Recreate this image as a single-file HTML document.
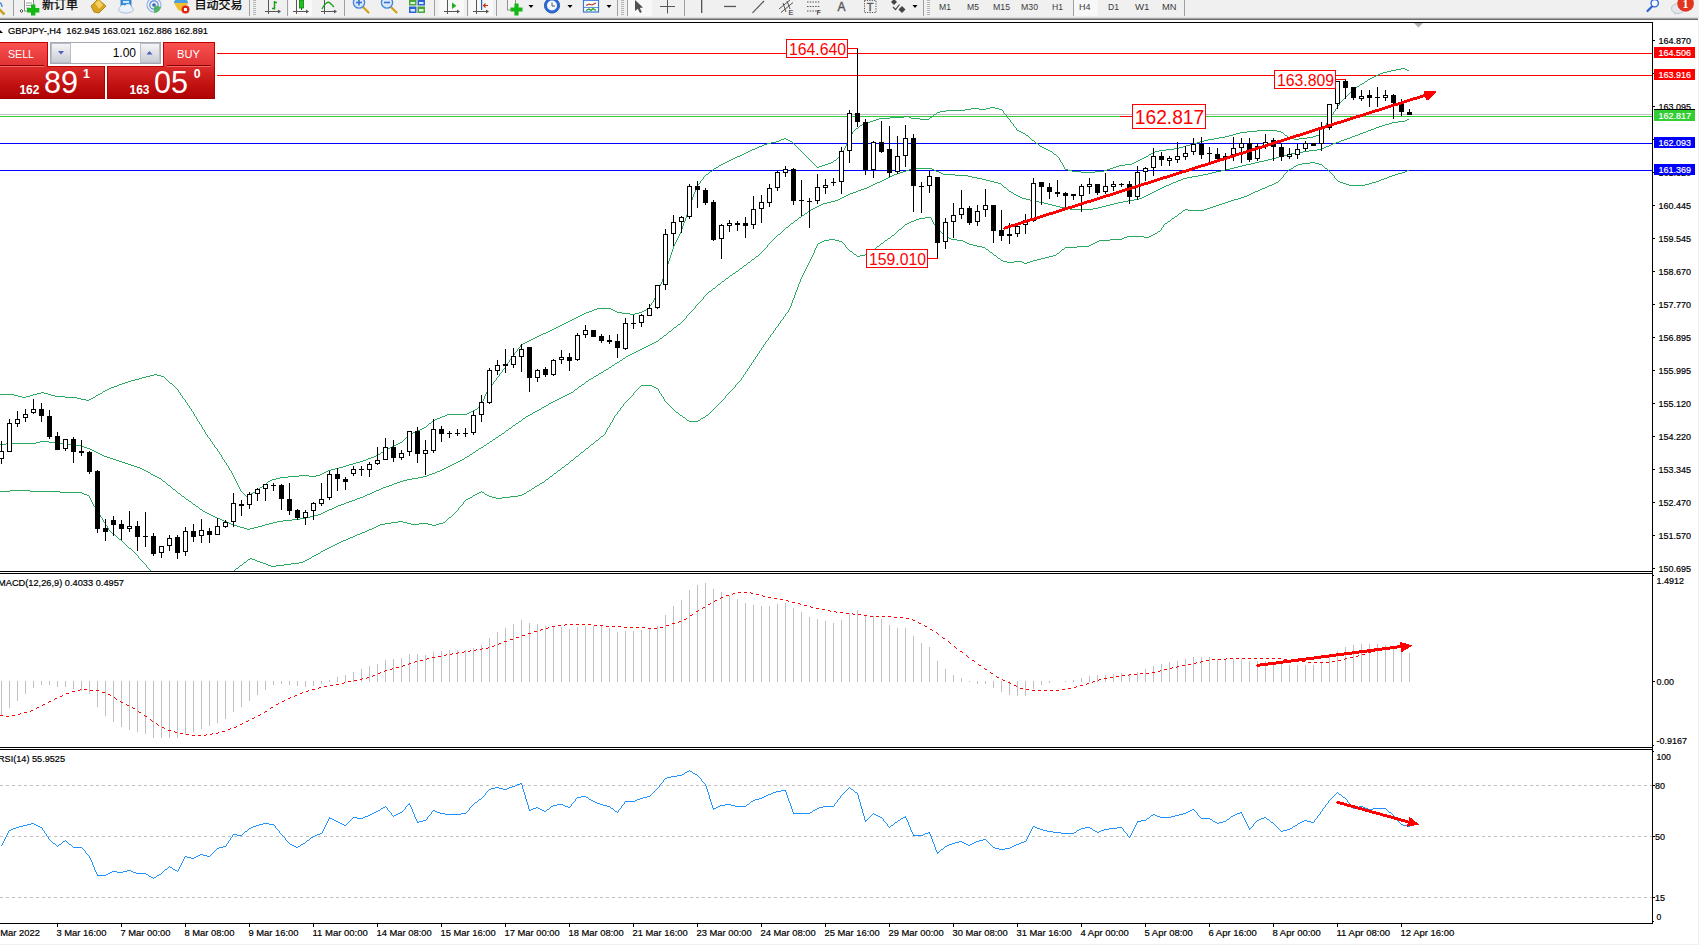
<!DOCTYPE html>
<html lang="zh"><head><meta charset="utf-8"><title>GBPJPY-,H4</title>
<style>html,body{margin:0;padding:0;background:#fff;overflow:hidden}body{width:1699px;height:945px}svg{display:block;position:absolute;left:0;top:0}</style>
</head><body>
<svg width="1699" height="945" viewBox="0 0 1699 945" font-family='"Liberation Sans", "Noto Sans CJK SC", sans-serif'>
<defs>
<linearGradient id="gTop" x1="0" y1="0" x2="0" y2="1"><stop offset="0" stop-color="#fb5252"/><stop offset="1" stop-color="#df3030"/></linearGradient>
<linearGradient id="gBot" x1="0" y1="0" x2="0" y2="1"><stop offset="0" stop-color="#dc2c2c"/><stop offset="0.55" stop-color="#c21212"/><stop offset="1" stop-color="#ae0202"/></linearGradient>
<linearGradient id="gBtn" x1="0" y1="0" x2="0" y2="1"><stop offset="0" stop-color="#f4f5f7"/><stop offset="0.5" stop-color="#dfe1e6"/><stop offset="1" stop-color="#c9ccd3"/></linearGradient>
<clipPath id="cMain"><rect x="0" y="23" width="1653" height="548"/></clipPath>
<clipPath id="cMacd"><rect x="0" y="574" width="1653" height="173"/></clipPath>
<clipPath id="cRsi"><rect x="0" y="750" width="1653" height="173"/></clipPath>
</defs>
<rect width="1699" height="945" fill="#fff"/>
<g clip-path="url(#cMain)" shape-rendering="crispEdges">
<rect x="217" y="53" width="1435" height="1" fill="#ff0000"/>
<rect x="217" y="75" width="1435" height="1" fill="#ff0000"/>
<rect x="0" y="114" width="1652" height="1" fill="#c0c0c0"/>
<rect x="0" y="116" width="1652" height="1" fill="#32cd32"/>
<rect x="0" y="143" width="1652" height="1" fill="#0000ff"/>
<rect x="0" y="170" width="1652" height="1" fill="#0000ff"/>
<path d="M1401 68h4v1h-4zM1396 69h5v1h-5zM1405 69h2v1h-2zM1391 70h5v1h-5zM1407 70h2v1h-2zM1387 71h4v1h-4zM1383 72h4v1h-4zM1380 73h3v1h-3zM1378 74h2v1h-2zM1376 75h2v1h-2zM1374 76h2v1h-2zM1372 77h2v1h-2zM1370 78h2v1h-2zM1368 79h2v1h-2zM1367 80h1v1h-1zM1365 81h2v1h-2zM1364 82h1v1h-1zM1362 83h2v1h-2zM1360 84h2v1h-2zM1359 85h1v1h-1zM1357 86h2v1h-2zM1356 87h1v1h-1zM1355 88h1v1h-1zM1354 89h1v1h-1zM1352 90h2v1h-2zM1351 91h1v1h-1zM1350 92h1v1h-1zM1349 93h1v1h-1zM1348 94h1v1h-1zM1347 95h1v1h-1zM1346 96h1v1h-1zM1345 97h1v1h-1zM1344 98h1v1h-1zM1343 99h1v1h-1zM1342 100h1v1h-1zM1341 101h1v1h-1zM1340 102h1v1h-1zM1339 103h1v1h-1zM1339 104h1v1h-1zM1338 105h1v1h-1zM1337 106h1v1h-1zM990 107h5v1h-5zM1337 107h1v1h-1zM971 108h8v1h-8zM986 108h4v1h-4zM995 108h4v1h-4zM1336 108h1v1h-1zM965 109h6v1h-6zM979 109h7v1h-7zM999 109h3v1h-3zM1335 109h1v1h-1zM946 110h19v1h-19zM1002 110h1v1h-1zM1335 110h1v1h-1zM940 111h6v1h-6zM1003 111h1v1h-1zM1334 111h1v1h-1zM937 112h3v1h-3zM1003 112h1v1h-1zM1333 112h1v1h-1zM936 113h1v1h-1zM1004 113h1v1h-1zM1333 113h1v1h-1zM934 114h2v1h-2zM1005 114h1v1h-1zM1332 114h1v1h-1zM933 115h1v1h-1zM1006 115h1v1h-1zM1331 115h1v1h-1zM904 116h5v1h-5zM932 116h1v1h-1zM1006 116h1v1h-1zM1331 116h1v1h-1zM890 117h14v1h-14zM909 117h2v1h-2zM930 117h2v1h-2zM1007 117h1v1h-1zM1330 117h1v1h-1zM879 118h11v1h-11zM911 118h9v1h-9zM929 118h1v1h-1zM1008 118h1v1h-1zM1330 118h1v1h-1zM876 119h3v1h-3zM920 119h9v1h-9zM1009 119h1v1h-1zM1329 119h1v1h-1zM873 120h3v1h-3zM1010 120h1v1h-1zM1328 120h1v1h-1zM870 121h3v1h-3zM1010 121h1v1h-1zM1328 121h1v1h-1zM867 122h3v1h-3zM1011 122h1v1h-1zM1327 122h1v1h-1zM864 123h3v1h-3zM1012 123h1v1h-1zM1326 123h1v1h-1zM862 124h2v1h-2zM1013 124h1v1h-1zM1326 124h1v1h-1zM860 125h2v1h-2zM1013 125h1v1h-1zM1325 125h1v1h-1zM859 126h1v1h-1zM1014 126h1v1h-1zM1324 126h1v1h-1zM858 127h1v1h-1zM1015 127h1v1h-1zM1324 127h1v1h-1zM856 128h2v1h-2zM1016 128h1v1h-1zM1323 128h1v1h-1zM855 129h1v1h-1zM1016 129h1v1h-1zM1323 129h1v1h-1zM854 130h1v1h-1zM1017 130h2v1h-2zM1257 130h20v1h-20zM1322 130h1v1h-1zM853 131h1v1h-1zM1019 131h2v1h-2zM1247 131h10v1h-10zM1277 131h4v1h-4zM1322 131h1v1h-1zM852 132h1v1h-1zM1021 132h2v1h-2zM1240 132h7v1h-7zM1281 132h2v1h-2zM1321 132h1v1h-1zM852 133h1v1h-1zM1023 133h2v1h-2zM1236 133h4v1h-4zM1283 133h1v1h-1zM1321 133h1v1h-1zM851 134h1v1h-1zM1025 134h1v1h-1zM1233 134h3v1h-3zM1284 134h1v1h-1zM1319 134h2v1h-2zM851 135h1v1h-1zM1026 135h2v1h-2zM1229 135h4v1h-4zM1285 135h2v1h-2zM1316 135h3v1h-3zM850 136h1v1h-1zM1028 136h1v1h-1zM1225 136h4v1h-4zM1287 136h1v1h-1zM1313 136h3v1h-3zM850 137h1v1h-1zM1029 137h1v1h-1zM1219 137h6v1h-6zM1288 137h2v1h-2zM1307 137h6v1h-6zM784 138h2v1h-2zM849 138h1v1h-1zM1030 138h1v1h-1zM1214 138h5v1h-5zM1290 138h4v1h-4zM1299 138h8v1h-8zM781 139h3v1h-3zM786 139h2v1h-2zM849 139h1v1h-1zM1031 139h1v1h-1zM1208 139h6v1h-6zM1294 139h5v1h-5zM779 140h2v1h-2zM788 140h2v1h-2zM848 140h1v1h-1zM1032 140h2v1h-2zM1204 140h4v1h-4zM776 141h3v1h-3zM790 141h2v1h-2zM848 141h1v1h-1zM1034 141h1v1h-1zM1200 141h4v1h-4zM771 142h5v1h-5zM792 142h1v1h-1zM847 142h1v1h-1zM1035 142h1v1h-1zM1197 142h3v1h-3zM767 143h4v1h-4zM793 143h1v1h-1zM847 143h1v1h-1zM1036 143h2v1h-2zM1193 143h4v1h-4zM764 144h3v1h-3zM794 144h1v1h-1zM846 144h1v1h-1zM1038 144h1v1h-1zM1190 144h3v1h-3zM762 145h2v1h-2zM795 145h1v1h-1zM846 145h1v1h-1zM1039 145h1v1h-1zM1186 145h4v1h-4zM759 146h3v1h-3zM796 146h1v1h-1zM845 146h1v1h-1zM1040 146h2v1h-2zM1183 146h3v1h-3zM757 147h2v1h-2zM797 147h1v1h-1zM845 147h1v1h-1zM1042 147h2v1h-2zM1179 147h4v1h-4zM755 148h2v1h-2zM798 148h1v1h-1zM844 148h1v1h-1zM1044 148h2v1h-2zM1174 148h5v1h-5zM752 149h3v1h-3zM799 149h1v1h-1zM844 149h1v1h-1zM1046 149h2v1h-2zM1166 149h8v1h-8zM750 150h2v1h-2zM800 150h1v1h-1zM843 150h1v1h-1zM1048 150h2v1h-2zM1159 150h7v1h-7zM748 151h2v1h-2zM801 151h1v1h-1zM843 151h1v1h-1zM1050 151h2v1h-2zM1155 151h4v1h-4zM746 152h2v1h-2zM802 152h1v1h-1zM842 152h1v1h-1zM1052 152h1v1h-1zM1153 152h2v1h-2zM744 153h2v1h-2zM803 153h1v1h-1zM842 153h1v1h-1zM1053 153h1v1h-1zM1151 153h2v1h-2zM742 154h2v1h-2zM804 154h1v1h-1zM841 154h1v1h-1zM1054 154h2v1h-2zM1149 154h2v1h-2zM740 155h2v1h-2zM805 155h1v1h-1zM841 155h1v1h-1zM1056 155h1v1h-1zM1148 155h1v1h-1zM737 156h3v1h-3zM806 156h1v1h-1zM840 156h1v1h-1zM1057 156h1v1h-1zM1146 156h2v1h-2zM735 157h2v1h-2zM807 157h1v1h-1zM838 157h2v1h-2zM1058 157h1v1h-1zM1144 157h2v1h-2zM733 158h2v1h-2zM808 158h1v1h-1zM837 158h1v1h-1zM1059 158h1v1h-1zM1142 158h2v1h-2zM731 159h2v1h-2zM809 159h1v1h-1zM836 159h1v1h-1zM1059 159h1v1h-1zM1140 159h2v1h-2zM729 160h2v1h-2zM810 160h1v1h-1zM834 160h2v1h-2zM1060 160h1v1h-1zM1138 160h2v1h-2zM727 161h2v1h-2zM811 161h1v1h-1zM833 161h1v1h-1zM1060 161h1v1h-1zM1136 161h2v1h-2zM725 162h2v1h-2zM812 162h1v1h-1zM831 162h2v1h-2zM1061 162h1v1h-1zM1134 162h2v1h-2zM723 163h2v1h-2zM813 163h1v1h-1zM828 163h3v1h-3zM1062 163h1v1h-1zM1132 163h2v1h-2zM721 164h2v1h-2zM814 164h1v1h-1zM825 164h3v1h-3zM1062 164h1v1h-1zM1125 164h7v1h-7zM719 165h2v1h-2zM815 165h1v1h-1zM822 165h3v1h-3zM1063 165h1v1h-1zM1119 165h6v1h-6zM718 166h1v1h-1zM816 166h1v1h-1zM819 166h3v1h-3zM1063 166h1v1h-1zM1116 166h3v1h-3zM716 167h2v1h-2zM817 167h2v1h-2zM1064 167h1v1h-1zM1113 167h3v1h-3zM714 168h2v1h-2zM1064 168h1v1h-1zM1110 168h3v1h-3zM713 169h1v1h-1zM1065 169h3v1h-3zM1107 169h3v1h-3zM712 170h1v1h-1zM1068 170h4v1h-4zM1104 170h3v1h-3zM710 171h2v1h-2zM1072 171h9v1h-9zM1095 171h9v1h-9zM709 172h1v1h-1zM1081 172h14v1h-14zM708 173h1v1h-1zM706 174h2v1h-2zM705 175h1v1h-1zM704 176h1v1h-1zM703 177h1v1h-1zM703 178h1v1h-1zM702 179h1v1h-1zM701 180h1v1h-1zM700 181h1v1h-1zM700 182h1v1h-1zM699 183h1v1h-1zM698 184h1v1h-1zM697 185h1v1h-1zM697 186h1v1h-1zM696 187h1v1h-1zM696 188h1v1h-1zM695 189h1v1h-1zM695 190h1v1h-1zM695 191h1v1h-1zM694 192h1v1h-1zM694 193h1v1h-1zM693 194h1v1h-1zM693 195h1v1h-1zM693 196h1v1h-1zM692 197h1v1h-1zM692 198h1v1h-1zM692 199h1v1h-1zM691 200h1v1h-1zM691 201h1v1h-1zM691 202h1v1h-1zM690 203h1v1h-1zM690 204h1v1h-1zM690 205h1v1h-1zM689 206h1v1h-1zM689 207h1v1h-1zM689 208h1v1h-1zM688 209h1v1h-1zM688 210h1v1h-1zM688 211h1v1h-1zM687 212h1v1h-1zM687 213h1v1h-1zM687 214h1v1h-1zM686 215h1v1h-1zM686 216h1v1h-1zM686 217h1v1h-1zM685 218h1v1h-1zM685 219h1v1h-1zM685 220h1v1h-1zM684 221h1v1h-1zM684 222h1v1h-1zM683 223h1v1h-1zM683 224h1v1h-1zM683 225h1v1h-1zM682 226h1v1h-1zM682 227h1v1h-1zM682 228h1v1h-1zM681 229h1v1h-1zM681 230h1v1h-1zM681 231h1v1h-1zM680 232h1v1h-1zM680 233h1v1h-1zM679 234h1v1h-1zM679 235h1v1h-1zM678 236h1v1h-1zM678 237h1v1h-1zM677 238h1v1h-1zM677 239h1v1h-1zM676 240h1v1h-1zM676 241h1v1h-1zM675 242h1v1h-1zM675 243h1v1h-1zM674 244h1v1h-1zM674 245h1v1h-1zM673 246h1v1h-1zM673 247h1v1h-1zM673 248h1v1h-1zM672 249h1v1h-1zM672 250h1v1h-1zM672 251h1v1h-1zM671 252h1v1h-1zM671 253h1v1h-1zM671 254h1v1h-1zM670 255h1v1h-1zM670 256h1v1h-1zM670 257h1v1h-1zM669 258h1v1h-1zM669 259h1v1h-1zM669 260h1v1h-1zM668 261h1v1h-1zM668 262h1v1h-1zM668 263h1v1h-1zM667 264h1v1h-1zM667 265h1v1h-1zM667 266h1v1h-1zM666 267h1v1h-1zM666 268h1v1h-1zM666 269h1v1h-1zM665 270h1v1h-1zM665 271h1v1h-1zM665 272h1v1h-1zM664 273h1v1h-1zM664 274h1v1h-1zM664 275h1v1h-1zM663 276h1v1h-1zM663 277h1v1h-1zM663 278h1v1h-1zM662 279h1v1h-1zM662 280h1v1h-1zM662 281h1v1h-1zM661 282h1v1h-1zM661 283h1v1h-1zM660 284h1v1h-1zM660 285h1v1h-1zM659 286h1v1h-1zM659 287h1v1h-1zM659 288h1v1h-1zM658 289h1v1h-1zM658 290h1v1h-1zM657 291h1v1h-1zM657 292h1v1h-1zM657 293h1v1h-1zM656 294h1v1h-1zM656 295h1v1h-1zM655 296h1v1h-1zM655 297h1v1h-1zM654 298h1v1h-1zM654 299h1v1h-1zM653 300h1v1h-1zM653 301h1v1h-1zM652 302h1v1h-1zM651 303h1v1h-1zM651 304h1v1h-1zM650 305h1v1h-1zM649 306h1v1h-1zM649 307h1v1h-1zM597 308h14v1h-14zM648 308h1v1h-1zM594 309h3v1h-3zM611 309h2v1h-2zM646 309h2v1h-2zM592 310h2v1h-2zM613 310h2v1h-2zM644 310h2v1h-2zM589 311h3v1h-3zM615 311h2v1h-2zM642 311h2v1h-2zM586 312h3v1h-3zM617 312h5v1h-5zM639 312h3v1h-3zM584 313h2v1h-2zM622 313h8v1h-8zM635 313h4v1h-4zM582 314h2v1h-2zM630 314h5v1h-5zM580 315h2v1h-2zM578 316h2v1h-2zM576 317h2v1h-2zM574 318h2v1h-2zM572 319h2v1h-2zM570 320h2v1h-2zM568 321h2v1h-2zM566 322h2v1h-2zM564 323h2v1h-2zM562 324h2v1h-2zM560 325h2v1h-2zM558 326h2v1h-2zM556 327h2v1h-2zM554 328h2v1h-2zM552 329h2v1h-2zM550 330h2v1h-2zM548 331h2v1h-2zM546 332h2v1h-2zM543 333h3v1h-3zM541 334h2v1h-2zM539 335h2v1h-2zM537 336h2v1h-2zM535 337h2v1h-2zM533 338h2v1h-2zM531 339h2v1h-2zM529 340h2v1h-2zM527 341h2v1h-2zM525 342h2v1h-2zM523 343h2v1h-2zM521 344h2v1h-2zM520 345h1v1h-1zM520 346h1v1h-1zM519 347h1v1h-1zM518 348h1v1h-1zM517 349h1v1h-1zM517 350h1v1h-1zM516 351h1v1h-1zM515 352h1v1h-1zM514 353h1v1h-1zM514 354h1v1h-1zM513 355h1v1h-1zM512 356h1v1h-1zM511 357h1v1h-1zM511 358h1v1h-1zM510 359h1v1h-1zM509 360h1v1h-1zM509 361h1v1h-1zM508 362h1v1h-1zM507 363h1v1h-1zM507 364h1v1h-1zM506 365h1v1h-1zM505 366h1v1h-1zM505 367h1v1h-1zM504 368h1v1h-1zM503 369h1v1h-1zM502 370h1v1h-1zM502 371h1v1h-1zM501 372h1v1h-1zM500 373h1v1h-1zM154 374h3v1h-3zM499 374h1v1h-1zM150 375h4v1h-4zM157 375h4v1h-4zM499 375h1v1h-1zM146 376h4v1h-4zM161 376h3v1h-3zM498 376h1v1h-1zM142 377h4v1h-4zM164 377h1v1h-1zM497 377h1v1h-1zM139 378h3v1h-3zM165 378h1v1h-1zM496 378h1v1h-1zM135 379h4v1h-4zM166 379h1v1h-1zM496 379h1v1h-1zM131 380h4v1h-4zM167 380h1v1h-1zM495 380h1v1h-1zM128 381h3v1h-3zM168 381h1v1h-1zM494 381h1v1h-1zM125 382h3v1h-3zM169 382h1v1h-1zM493 382h1v1h-1zM122 383h3v1h-3zM170 383h2v1h-2zM493 383h1v1h-1zM119 384h3v1h-3zM172 384h1v1h-1zM492 384h1v1h-1zM117 385h2v1h-2zM173 385h1v1h-1zM491 385h1v1h-1zM114 386h3v1h-3zM174 386h1v1h-1zM490 386h1v1h-1zM111 387h3v1h-3zM175 387h1v1h-1zM490 387h1v1h-1zM109 388h2v1h-2zM176 388h1v1h-1zM489 388h1v1h-1zM107 389h2v1h-2zM177 389h1v1h-1zM488 389h1v1h-1zM105 390h2v1h-2zM178 390h1v1h-1zM487 390h1v1h-1zM103 391h2v1h-2zM178 391h1v1h-1zM487 391h1v1h-1zM41 392h3v1h-3zM102 392h1v1h-1zM179 392h1v1h-1zM486 392h1v1h-1zM37 393h4v1h-4zM44 393h4v1h-4zM100 393h2v1h-2zM180 393h1v1h-1zM486 393h1v1h-1zM0 394h14v1h-14zM33 394h4v1h-4zM48 394h3v1h-3zM98 394h2v1h-2zM180 394h1v1h-1zM485 394h1v1h-1zM14 395h4v1h-4zM30 395h3v1h-3zM51 395h4v1h-4zM96 395h2v1h-2zM181 395h1v1h-1zM485 395h1v1h-1zM18 396h4v1h-4zM26 396h4v1h-4zM55 396h10v1h-10zM95 396h1v1h-1zM182 396h1v1h-1zM484 396h1v1h-1zM22 397h4v1h-4zM65 397h12v1h-12zM93 397h2v1h-2zM182 397h1v1h-1zM484 397h1v1h-1zM77 398h4v1h-4zM91 398h2v1h-2zM183 398h1v1h-1zM484 398h1v1h-1zM81 399h5v1h-5zM89 399h2v1h-2zM184 399h1v1h-1zM483 399h1v1h-1zM86 400h3v1h-3zM185 400h1v1h-1zM483 400h1v1h-1zM185 401h1v1h-1zM482 401h1v1h-1zM186 402h1v1h-1zM482 402h1v1h-1zM187 403h1v1h-1zM481 403h1v1h-1zM187 404h1v1h-1zM480 404h1v1h-1zM188 405h1v1h-1zM479 405h1v1h-1zM189 406h1v1h-1zM479 406h1v1h-1zM189 407h1v1h-1zM478 407h1v1h-1zM190 408h1v1h-1zM477 408h1v1h-1zM191 409h1v1h-1zM475 409h2v1h-2zM191 410h1v1h-1zM473 410h2v1h-2zM192 411h1v1h-1zM471 411h2v1h-2zM193 412h1v1h-1zM469 412h2v1h-2zM193 413h1v1h-1zM467 413h2v1h-2zM194 414h1v1h-1zM447 414h20v1h-20zM194 415h1v1h-1zM445 415h2v1h-2zM195 416h1v1h-1zM442 416h3v1h-3zM196 417h1v1h-1zM440 417h2v1h-2zM196 418h1v1h-1zM437 418h3v1h-3zM197 419h1v1h-1zM435 419h2v1h-2zM197 420h1v1h-1zM433 420h2v1h-2zM198 421h1v1h-1zM432 421h1v1h-1zM199 422h1v1h-1zM431 422h1v1h-1zM199 423h1v1h-1zM429 423h2v1h-2zM200 424h1v1h-1zM428 424h1v1h-1zM201 425h1v1h-1zM427 425h1v1h-1zM201 426h1v1h-1zM426 426h1v1h-1zM202 427h1v1h-1zM424 427h2v1h-2zM202 428h1v1h-1zM422 428h2v1h-2zM203 429h1v1h-1zM420 429h2v1h-2zM204 430h1v1h-1zM417 430h3v1h-3zM204 431h1v1h-1zM415 431h2v1h-2zM205 432h1v1h-1zM413 432h2v1h-2zM205 433h1v1h-1zM411 433h2v1h-2zM206 434h1v1h-1zM409 434h2v1h-2zM207 435h1v1h-1zM408 435h1v1h-1zM207 436h1v1h-1zM407 436h1v1h-1zM208 437h1v1h-1zM406 437h1v1h-1zM209 438h1v1h-1zM405 438h1v1h-1zM210 439h1v1h-1zM404 439h1v1h-1zM210 440h1v1h-1zM403 440h1v1h-1zM211 441h1v1h-1zM402 441h1v1h-1zM212 442h1v1h-1zM400 442h2v1h-2zM212 443h1v1h-1zM398 443h2v1h-2zM213 444h1v1h-1zM396 444h2v1h-2zM214 445h1v1h-1zM394 445h2v1h-2zM214 446h1v1h-1zM392 446h2v1h-2zM215 447h1v1h-1zM390 447h2v1h-2zM216 448h1v1h-1zM388 448h2v1h-2zM217 449h1v1h-1zM386 449h2v1h-2zM217 450h1v1h-1zM385 450h1v1h-1zM218 451h1v1h-1zM383 451h2v1h-2zM219 452h1v1h-1zM381 452h2v1h-2zM219 453h1v1h-1zM380 453h1v1h-1zM220 454h1v1h-1zM378 454h2v1h-2zM221 455h1v1h-1zM376 455h2v1h-2zM221 456h1v1h-1zM374 456h2v1h-2zM222 457h1v1h-1zM371 457h3v1h-3zM222 458h1v1h-1zM368 458h3v1h-3zM223 459h1v1h-1zM366 459h2v1h-2zM224 460h1v1h-1zM363 460h3v1h-3zM224 461h1v1h-1zM360 461h3v1h-3zM225 462h1v1h-1zM356 462h4v1h-4zM226 463h1v1h-1zM353 463h3v1h-3zM226 464h1v1h-1zM349 464h4v1h-4zM227 465h1v1h-1zM346 465h3v1h-3zM228 466h1v1h-1zM343 466h3v1h-3zM228 467h1v1h-1zM339 467h4v1h-4zM229 468h1v1h-1zM335 468h4v1h-4zM229 469h1v1h-1zM331 469h4v1h-4zM230 470h1v1h-1zM328 470h3v1h-3zM231 471h1v1h-1zM326 471h2v1h-2zM231 472h1v1h-1zM324 472h2v1h-2zM232 473h1v1h-1zM322 473h2v1h-2zM232 474h1v1h-1zM320 474h2v1h-2zM233 475h1v1h-1zM299 475h10v1h-10zM316 475h4v1h-4zM233 476h1v1h-1zM288 476h11v1h-11zM309 476h7v1h-7zM234 477h1v1h-1zM280 477h8v1h-8zM234 478h1v1h-1zM276 478h4v1h-4zM235 479h1v1h-1zM272 479h4v1h-4zM235 480h1v1h-1zM270 480h2v1h-2zM236 481h1v1h-1zM268 481h2v1h-2zM236 482h1v1h-1zM267 482h1v1h-1zM237 483h1v1h-1zM266 483h1v1h-1zM237 484h1v1h-1zM264 484h2v1h-2zM238 485h1v1h-1zM263 485h1v1h-1zM238 486h1v1h-1zM262 486h1v1h-1zM239 487h1v1h-1zM260 487h2v1h-2zM239 488h1v1h-1zM259 488h1v1h-1zM240 489h1v1h-1zM258 489h1v1h-1zM240 490h1v1h-1zM256 490h2v1h-2zM241 491h1v1h-1zM255 491h1v1h-1zM242 492h1v1h-1zM253 492h2v1h-2zM243 493h1v1h-1zM251 493h2v1h-2zM244 494h1v1h-1zM249 494h2v1h-2zM245 495h1v1h-1zM247 495h2v1h-2zM246 496h1v1h-1z" fill="#2aa862"/>
<path d="M1407 119h2v1h-2zM1405 120h2v1h-2zM1398 121h7v1h-7zM1392 122h6v1h-6zM1389 123h3v1h-3zM1385 124h4v1h-4zM1382 125h3v1h-3zM1379 126h3v1h-3zM1376 127h3v1h-3zM1374 128h2v1h-2zM1371 129h3v1h-3zM1368 130h3v1h-3zM1366 131h2v1h-2zM1363 132h3v1h-3zM1360 133h3v1h-3zM1358 134h2v1h-2zM1355 135h3v1h-3zM1352 136h3v1h-3zM1350 137h2v1h-2zM1347 138h3v1h-3zM1344 139h3v1h-3zM1341 140h3v1h-3zM1339 141h2v1h-2zM1336 142h3v1h-3zM1333 143h3v1h-3zM1331 144h2v1h-2zM1329 145h2v1h-2zM1326 146h3v1h-3zM1324 147h2v1h-2zM1322 148h2v1h-2zM1317 149h5v1h-5zM1309 150h8v1h-8zM1303 151h6v1h-6zM1297 152h6v1h-6zM1291 153h6v1h-6zM1287 154h4v1h-4zM1283 155h4v1h-4zM1279 156h4v1h-4zM1276 157h3v1h-3zM1272 158h4v1h-4zM1268 159h4v1h-4zM1264 160h4v1h-4zM1259 161h5v1h-5zM1255 162h4v1h-4zM1251 163h4v1h-4zM1246 164h5v1h-5zM1242 165h4v1h-4zM1238 166h4v1h-4zM1234 167h4v1h-4zM914 168h18v1h-18zM1230 168h4v1h-4zM909 169h5v1h-5zM932 169h2v1h-2zM1225 169h5v1h-5zM906 170h3v1h-3zM934 170h2v1h-2zM1221 170h4v1h-4zM903 171h3v1h-3zM936 171h3v1h-3zM1216 171h5v1h-5zM900 172h3v1h-3zM939 172h2v1h-2zM1212 172h4v1h-4zM897 173h3v1h-3zM941 173h2v1h-2zM1208 173h4v1h-4zM894 174h3v1h-3zM943 174h12v1h-12zM1203 174h5v1h-5zM892 175h2v1h-2zM955 175h13v1h-13zM1198 175h5v1h-5zM890 176h2v1h-2zM968 176h4v1h-4zM1192 176h6v1h-6zM888 177h2v1h-2zM972 177h5v1h-5zM1187 177h5v1h-5zM886 178h2v1h-2zM977 178h5v1h-5zM1183 178h4v1h-4zM884 179h2v1h-2zM982 179h4v1h-4zM1181 179h2v1h-2zM882 180h2v1h-2zM986 180h4v1h-4zM1178 180h3v1h-3zM880 181h2v1h-2zM990 181h4v1h-4zM1176 181h2v1h-2zM877 182h3v1h-3zM994 182h4v1h-4zM1173 182h3v1h-3zM875 183h2v1h-2zM998 183h3v1h-3zM1171 183h2v1h-2zM873 184h2v1h-2zM1001 184h1v1h-1zM1169 184h2v1h-2zM871 185h2v1h-2zM1002 185h1v1h-1zM1166 185h3v1h-3zM869 186h2v1h-2zM1003 186h1v1h-1zM1164 186h2v1h-2zM867 187h2v1h-2zM1004 187h2v1h-2zM1162 187h2v1h-2zM864 188h3v1h-3zM1006 188h1v1h-1zM1160 188h2v1h-2zM861 189h3v1h-3zM1007 189h1v1h-1zM1158 189h2v1h-2zM858 190h3v1h-3zM1008 190h1v1h-1zM1156 190h2v1h-2zM856 191h2v1h-2zM1009 191h2v1h-2zM1154 191h2v1h-2zM853 192h3v1h-3zM1011 192h2v1h-2zM1152 192h2v1h-2zM850 193h3v1h-3zM1013 193h1v1h-1zM1150 193h2v1h-2zM848 194h2v1h-2zM1014 194h2v1h-2zM1148 194h2v1h-2zM846 195h2v1h-2zM1016 195h2v1h-2zM1146 195h2v1h-2zM844 196h2v1h-2zM1018 196h2v1h-2zM1144 196h2v1h-2zM842 197h2v1h-2zM1020 197h2v1h-2zM1142 197h2v1h-2zM840 198h2v1h-2zM1022 198h4v1h-4zM1139 198h3v1h-3zM838 199h2v1h-2zM1026 199h4v1h-4zM1134 199h5v1h-5zM835 200h3v1h-3zM1030 200h4v1h-4zM1128 200h6v1h-6zM831 201h4v1h-4zM1034 201h5v1h-5zM1123 201h5v1h-5zM827 202h4v1h-4zM1039 202h5v1h-5zM1118 202h5v1h-5zM823 203h4v1h-4zM1044 203h4v1h-4zM1114 203h4v1h-4zM821 204h2v1h-2zM1048 204h4v1h-4zM1110 204h4v1h-4zM819 205h2v1h-2zM1052 205h4v1h-4zM1106 205h4v1h-4zM817 206h2v1h-2zM1056 206h4v1h-4zM1102 206h4v1h-4zM815 207h2v1h-2zM1060 207h5v1h-5zM1098 207h4v1h-4zM813 208h2v1h-2zM1065 208h5v1h-5zM1093 208h5v1h-5zM811 209h2v1h-2zM1070 209h23v1h-23zM810 210h1v1h-1zM808 211h2v1h-2zM807 212h1v1h-1zM805 213h2v1h-2zM804 214h1v1h-1zM802 215h2v1h-2zM801 216h1v1h-1zM799 217h2v1h-2zM798 218h1v1h-1zM797 219h1v1h-1zM795 220h2v1h-2zM794 221h1v1h-1zM793 222h1v1h-1zM791 223h2v1h-2zM790 224h1v1h-1zM789 225h1v1h-1zM788 226h1v1h-1zM786 227h2v1h-2zM785 228h1v1h-1zM784 229h1v1h-1zM783 230h1v1h-1zM782 231h1v1h-1zM781 232h1v1h-1zM780 233h1v1h-1zM778 234h2v1h-2zM777 235h1v1h-1zM776 236h1v1h-1zM775 237h1v1h-1zM774 238h1v1h-1zM773 239h1v1h-1zM772 240h1v1h-1zM771 241h1v1h-1zM770 242h1v1h-1zM769 243h1v1h-1zM768 244h1v1h-1zM767 245h1v1h-1zM767 246h1v1h-1zM766 247h1v1h-1zM765 248h1v1h-1zM764 249h1v1h-1zM763 250h1v1h-1zM762 251h1v1h-1zM761 252h1v1h-1zM760 253h1v1h-1zM759 254h1v1h-1zM758 255h1v1h-1zM756 256h2v1h-2zM755 257h1v1h-1zM754 258h1v1h-1zM752 259h2v1h-2zM751 260h1v1h-1zM750 261h1v1h-1zM748 262h2v1h-2zM747 263h1v1h-1zM746 264h1v1h-1zM744 265h2v1h-2zM743 266h1v1h-1zM742 267h1v1h-1zM740 268h2v1h-2zM739 269h1v1h-1zM738 270h1v1h-1zM736 271h2v1h-2zM735 272h1v1h-1zM733 273h2v1h-2zM732 274h1v1h-1zM730 275h2v1h-2zM729 276h1v1h-1zM728 277h1v1h-1zM726 278h2v1h-2zM725 279h1v1h-1zM724 280h1v1h-1zM722 281h2v1h-2zM721 282h1v1h-1zM720 283h1v1h-1zM718 284h2v1h-2zM717 285h1v1h-1zM716 286h1v1h-1zM715 287h1v1h-1zM713 288h2v1h-2zM712 289h1v1h-1zM711 290h1v1h-1zM709 291h2v1h-2zM708 292h1v1h-1zM707 293h1v1h-1zM706 294h1v1h-1zM705 295h1v1h-1zM704 296h1v1h-1zM703 297h1v1h-1zM703 298h1v1h-1zM702 299h1v1h-1zM701 300h1v1h-1zM700 301h1v1h-1zM699 302h1v1h-1zM698 303h1v1h-1zM697 304h1v1h-1zM696 305h1v1h-1zM695 306h1v1h-1zM695 307h1v1h-1zM694 308h1v1h-1zM693 309h1v1h-1zM692 310h1v1h-1zM691 311h1v1h-1zM690 312h1v1h-1zM689 313h1v1h-1zM688 314h1v1h-1zM687 315h1v1h-1zM686 316h1v1h-1zM686 317h1v1h-1zM685 318h1v1h-1zM684 319h1v1h-1zM683 320h1v1h-1zM682 321h1v1h-1zM681 322h1v1h-1zM680 323h1v1h-1zM678 324h2v1h-2zM677 325h1v1h-1zM676 326h1v1h-1zM674 327h2v1h-2zM673 328h1v1h-1zM672 329h1v1h-1zM671 330h1v1h-1zM669 331h2v1h-2zM668 332h1v1h-1zM667 333h1v1h-1zM666 334h1v1h-1zM664 335h2v1h-2zM663 336h1v1h-1zM662 337h1v1h-1zM660 338h2v1h-2zM659 339h1v1h-1zM658 340h1v1h-1zM656 341h2v1h-2zM654 342h2v1h-2zM652 343h2v1h-2zM650 344h2v1h-2zM648 345h2v1h-2zM646 346h2v1h-2zM644 347h2v1h-2zM642 348h2v1h-2zM640 349h2v1h-2zM638 350h2v1h-2zM636 351h2v1h-2zM634 352h2v1h-2zM632 353h2v1h-2zM630 354h2v1h-2zM628 355h2v1h-2zM626 356h2v1h-2zM625 357h1v1h-1zM623 358h2v1h-2zM622 359h1v1h-1zM620 360h2v1h-2zM619 361h1v1h-1zM617 362h2v1h-2zM615 363h2v1h-2zM614 364h1v1h-1zM612 365h2v1h-2zM611 366h1v1h-1zM609 367h2v1h-2zM608 368h1v1h-1zM606 369h2v1h-2zM604 370h2v1h-2zM603 371h1v1h-1zM601 372h2v1h-2zM599 373h2v1h-2zM598 374h1v1h-1zM596 375h2v1h-2zM594 376h2v1h-2zM593 377h1v1h-1zM591 378h2v1h-2zM589 379h2v1h-2zM588 380h1v1h-1zM586 381h2v1h-2zM585 382h1v1h-1zM584 383h1v1h-1zM582 384h2v1h-2zM581 385h1v1h-1zM579 386h2v1h-2zM578 387h1v1h-1zM577 388h1v1h-1zM575 389h2v1h-2zM574 390h1v1h-1zM573 391h1v1h-1zM571 392h2v1h-2zM569 393h2v1h-2zM567 394h2v1h-2zM565 395h2v1h-2zM563 396h2v1h-2zM561 397h2v1h-2zM559 398h2v1h-2zM557 399h2v1h-2zM555 400h2v1h-2zM553 401h2v1h-2zM551 402h2v1h-2zM549 403h2v1h-2zM548 404h1v1h-1zM546 405h2v1h-2zM544 406h2v1h-2zM542 407h2v1h-2zM541 408h1v1h-1zM539 409h2v1h-2zM537 410h2v1h-2zM535 411h2v1h-2zM533 412h2v1h-2zM532 413h1v1h-1zM530 414h2v1h-2zM528 415h2v1h-2zM526 416h2v1h-2zM525 417h1v1h-1zM523 418h2v1h-2zM522 419h1v1h-1zM521 420h1v1h-1zM519 421h2v1h-2zM518 422h1v1h-1zM516 423h2v1h-2zM515 424h1v1h-1zM513 425h2v1h-2zM512 426h1v1h-1zM511 427h1v1h-1zM509 428h2v1h-2zM508 429h1v1h-1zM506 430h2v1h-2zM505 431h1v1h-1zM504 432h1v1h-1zM502 433h2v1h-2zM501 434h1v1h-1zM499 435h2v1h-2zM498 436h1v1h-1zM496 437h2v1h-2zM495 438h1v1h-1zM493 439h2v1h-2zM492 440h1v1h-1zM40 441h9v1h-9zM490 441h2v1h-2zM36 442h4v1h-4zM49 442h11v1h-11zM489 442h1v1h-1zM6 443h30v1h-30zM60 443h8v1h-8zM487 443h2v1h-2zM0 444h6v1h-6zM68 444h8v1h-8zM486 444h1v1h-1zM76 445h6v1h-6zM484 445h2v1h-2zM82 446h2v1h-2zM483 446h1v1h-1zM84 447h3v1h-3zM481 447h2v1h-2zM87 448h3v1h-3zM479 448h2v1h-2zM90 449h2v1h-2zM478 449h1v1h-1zM92 450h2v1h-2zM476 450h2v1h-2zM94 451h2v1h-2zM475 451h1v1h-1zM96 452h2v1h-2zM473 452h2v1h-2zM98 453h2v1h-2zM472 453h1v1h-1zM100 454h2v1h-2zM470 454h2v1h-2zM102 455h2v1h-2zM469 455h1v1h-1zM104 456h3v1h-3zM467 456h2v1h-2zM107 457h3v1h-3zM465 457h2v1h-2zM110 458h3v1h-3zM464 458h1v1h-1zM113 459h3v1h-3zM462 459h2v1h-2zM116 460h3v1h-3zM460 460h2v1h-2zM119 461h3v1h-3zM458 461h2v1h-2zM122 462h3v1h-3zM456 462h2v1h-2zM125 463h3v1h-3zM454 463h2v1h-2zM128 464h3v1h-3zM452 464h2v1h-2zM131 465h3v1h-3zM450 465h2v1h-2zM134 466h3v1h-3zM448 466h2v1h-2zM137 467h3v1h-3zM446 467h2v1h-2zM140 468h2v1h-2zM444 468h2v1h-2zM142 469h2v1h-2zM442 469h2v1h-2zM144 470h2v1h-2zM440 470h2v1h-2zM146 471h2v1h-2zM437 471h3v1h-3zM148 472h2v1h-2zM435 472h2v1h-2zM150 473h1v1h-1zM432 473h3v1h-3zM151 474h2v1h-2zM429 474h3v1h-3zM153 475h2v1h-2zM427 475h2v1h-2zM155 476h2v1h-2zM423 476h4v1h-4zM157 477h2v1h-2zM418 477h5v1h-5zM159 478h2v1h-2zM412 478h6v1h-6zM161 479h1v1h-1zM407 479h5v1h-5zM162 480h1v1h-1zM403 480h4v1h-4zM163 481h2v1h-2zM400 481h3v1h-3zM165 482h1v1h-1zM397 482h3v1h-3zM166 483h1v1h-1zM394 483h3v1h-3zM167 484h1v1h-1zM392 484h2v1h-2zM168 485h2v1h-2zM389 485h3v1h-3zM170 486h1v1h-1zM386 486h3v1h-3zM171 487h1v1h-1zM383 487h3v1h-3zM172 488h1v1h-1zM381 488h2v1h-2zM173 489h2v1h-2zM379 489h2v1h-2zM175 490h1v1h-1zM376 490h3v1h-3zM176 491h1v1h-1zM374 491h2v1h-2zM177 492h1v1h-1zM372 492h2v1h-2zM178 493h2v1h-2zM370 493h2v1h-2zM180 494h1v1h-1zM367 494h3v1h-3zM181 495h1v1h-1zM365 495h2v1h-2zM182 496h2v1h-2zM363 496h2v1h-2zM184 497h1v1h-1zM360 497h3v1h-3zM185 498h1v1h-1zM357 498h3v1h-3zM186 499h2v1h-2zM355 499h2v1h-2zM188 500h1v1h-1zM352 500h3v1h-3zM189 501h2v1h-2zM349 501h3v1h-3zM191 502h1v1h-1zM346 502h3v1h-3zM192 503h1v1h-1zM344 503h2v1h-2zM193 504h2v1h-2zM341 504h3v1h-3zM195 505h1v1h-1zM338 505h3v1h-3zM196 506h2v1h-2zM336 506h2v1h-2zM198 507h1v1h-1zM334 507h2v1h-2zM199 508h1v1h-1zM332 508h2v1h-2zM200 509h2v1h-2zM329 509h3v1h-3zM202 510h1v1h-1zM327 510h2v1h-2zM203 511h2v1h-2zM325 511h2v1h-2zM205 512h2v1h-2zM323 512h2v1h-2zM207 513h2v1h-2zM321 513h2v1h-2zM209 514h2v1h-2zM318 514h3v1h-3zM211 515h2v1h-2zM314 515h4v1h-4zM213 516h2v1h-2zM310 516h4v1h-4zM215 517h2v1h-2zM306 517h4v1h-4zM217 518h3v1h-3zM300 518h6v1h-6zM220 519h2v1h-2zM292 519h8v1h-8zM222 520h2v1h-2zM283 520h9v1h-9zM224 521h3v1h-3zM277 521h6v1h-6zM227 522h2v1h-2zM273 522h4v1h-4zM229 523h2v1h-2zM269 523h4v1h-4zM231 524h3v1h-3zM265 524h4v1h-4zM234 525h3v1h-3zM262 525h3v1h-3zM237 526h3v1h-3zM258 526h4v1h-4zM240 527h4v1h-4zM254 527h4v1h-4zM244 528h3v1h-3zM250 528h4v1h-4zM247 529h3v1h-3z" fill="#2aa862"/>
<path d="M1310 162h5v1h-5zM1302 163h8v1h-8zM1315 163h4v1h-4zM1298 164h4v1h-4zM1319 164h3v1h-3zM1296 165h2v1h-2zM1322 165h1v1h-1zM1294 166h2v1h-2zM1323 166h1v1h-1zM1293 167h1v1h-1zM1324 167h1v1h-1zM1291 168h2v1h-2zM1325 168h2v1h-2zM1289 169h2v1h-2zM1327 169h1v1h-1zM1288 170h1v1h-1zM1328 170h1v1h-1zM1407 170h2v1h-2zM1287 171h1v1h-1zM1329 171h1v1h-1zM1405 171h2v1h-2zM1286 172h1v1h-1zM1330 172h1v1h-1zM1402 172h3v1h-3zM1285 173h1v1h-1zM1331 173h1v1h-1zM1398 173h4v1h-4zM1284 174h1v1h-1zM1332 174h1v1h-1zM1395 174h3v1h-3zM1283 175h1v1h-1zM1333 175h1v1h-1zM1392 175h3v1h-3zM1283 176h1v1h-1zM1334 176h1v1h-1zM1389 176h3v1h-3zM1282 177h1v1h-1zM1334 177h1v1h-1zM1387 177h2v1h-2zM1281 178h1v1h-1zM1335 178h1v1h-1zM1384 178h3v1h-3zM1280 179h1v1h-1zM1336 179h1v1h-1zM1381 179h3v1h-3zM1279 180h1v1h-1zM1337 180h1v1h-1zM1379 180h2v1h-2zM1278 181h1v1h-1zM1338 181h2v1h-2zM1376 181h3v1h-3zM1276 182h2v1h-2zM1340 182h3v1h-3zM1372 182h4v1h-4zM1274 183h2v1h-2zM1343 183h3v1h-3zM1369 183h3v1h-3zM1272 184h2v1h-2zM1346 184h3v1h-3zM1365 184h4v1h-4zM1269 185h3v1h-3zM1349 185h16v1h-16zM1267 186h2v1h-2zM1265 187h2v1h-2zM1262 188h3v1h-3zM1260 189h2v1h-2zM1258 190h2v1h-2zM1255 191h3v1h-3zM1253 192h2v1h-2zM1251 193h2v1h-2zM1249 194h2v1h-2zM1247 195h2v1h-2zM1244 196h3v1h-3zM1241 197h3v1h-3zM1238 198h3v1h-3zM1234 199h4v1h-4zM1231 200h3v1h-3zM1228 201h3v1h-3zM1225 202h3v1h-3zM1222 203h3v1h-3zM1219 204h3v1h-3zM1216 205h3v1h-3zM1213 206h3v1h-3zM1210 207h3v1h-3zM1207 208h3v1h-3zM1185 209h3v1h-3zM1204 209h3v1h-3zM1183 210h2v1h-2zM1188 210h16v1h-16zM1182 211h1v1h-1zM1181 212h1v1h-1zM1179 213h2v1h-2zM1178 214h1v1h-1zM1177 215h1v1h-1zM1175 216h2v1h-2zM925 217h6v1h-6zM1174 217h1v1h-1zM919 218h6v1h-6zM931 218h1v1h-1zM1172 218h2v1h-2zM916 219h3v1h-3zM931 219h1v1h-1zM1171 219h1v1h-1zM914 220h2v1h-2zM932 220h1v1h-1zM1170 220h1v1h-1zM911 221h3v1h-3zM932 221h1v1h-1zM1168 221h2v1h-2zM909 222h2v1h-2zM933 222h1v1h-1zM1167 222h1v1h-1zM907 223h2v1h-2zM933 223h1v1h-1zM1165 223h2v1h-2zM905 224h2v1h-2zM934 224h1v1h-1zM1164 224h1v1h-1zM904 225h1v1h-1zM935 225h1v1h-1zM1163 225h1v1h-1zM903 226h1v1h-1zM936 226h1v1h-1zM1163 226h1v1h-1zM902 227h1v1h-1zM937 227h1v1h-1zM1162 227h1v1h-1zM901 228h1v1h-1zM938 228h1v1h-1zM1161 228h1v1h-1zM899 229h2v1h-2zM938 229h1v1h-1zM1161 229h1v1h-1zM898 230h1v1h-1zM939 230h1v1h-1zM1160 230h1v1h-1zM897 231h1v1h-1zM940 231h1v1h-1zM1158 231h2v1h-2zM896 232h1v1h-1zM941 232h1v1h-1zM1157 232h1v1h-1zM895 233h1v1h-1zM942 233h2v1h-2zM1155 233h2v1h-2zM894 234h1v1h-1zM944 234h1v1h-1zM1153 234h2v1h-2zM892 235h2v1h-2zM945 235h1v1h-1zM1151 235h2v1h-2zM891 236h1v1h-1zM946 236h2v1h-2zM1127 236h17v1h-17zM1149 236h2v1h-2zM890 237h1v1h-1zM948 237h1v1h-1zM1124 237h3v1h-3zM1144 237h5v1h-5zM888 238h2v1h-2zM949 238h2v1h-2zM1122 238h2v1h-2zM829 239h6v1h-6zM887 239h1v1h-1zM951 239h6v1h-6zM1110 239h12v1h-12zM824 240h5v1h-5zM835 240h4v1h-4zM885 240h2v1h-2zM957 240h6v1h-6zM1099 240h11v1h-11zM822 241h2v1h-2zM839 241h3v1h-3zM884 241h1v1h-1zM963 241h2v1h-2zM1097 241h2v1h-2zM820 242h2v1h-2zM842 242h1v1h-1zM883 242h1v1h-1zM965 242h2v1h-2zM1095 242h2v1h-2zM818 243h2v1h-2zM843 243h1v1h-1zM881 243h2v1h-2zM967 243h2v1h-2zM1093 243h2v1h-2zM817 244h1v1h-1zM844 244h1v1h-1zM880 244h1v1h-1zM969 244h4v1h-4zM1091 244h2v1h-2zM817 245h1v1h-1zM845 245h1v1h-1zM879 245h1v1h-1zM973 245h4v1h-4zM1089 245h2v1h-2zM816 246h1v1h-1zM845 246h1v1h-1zM877 246h2v1h-2zM977 246h5v1h-5zM1077 246h12v1h-12zM816 247h1v1h-1zM846 247h1v1h-1zM876 247h1v1h-1zM982 247h3v1h-3zM1065 247h12v1h-12zM815 248h1v1h-1zM847 248h1v1h-1zM875 248h1v1h-1zM985 248h1v1h-1zM1064 248h1v1h-1zM815 249h1v1h-1zM848 249h1v1h-1zM873 249h2v1h-2zM986 249h2v1h-2zM1062 249h2v1h-2zM814 250h1v1h-1zM849 250h1v1h-1zM872 250h1v1h-1zM988 250h1v1h-1zM1061 250h1v1h-1zM814 251h1v1h-1zM850 251h2v1h-2zM871 251h1v1h-1zM989 251h1v1h-1zM1060 251h1v1h-1zM814 252h1v1h-1zM852 252h1v1h-1zM869 252h2v1h-2zM990 252h2v1h-2zM1059 252h1v1h-1zM813 253h1v1h-1zM853 253h1v1h-1zM868 253h1v1h-1zM992 253h1v1h-1zM1057 253h2v1h-2zM813 254h1v1h-1zM854 254h2v1h-2zM865 254h3v1h-3zM993 254h1v1h-1zM1056 254h1v1h-1zM812 255h1v1h-1zM856 255h1v1h-1zM860 255h5v1h-5zM994 255h2v1h-2zM1053 255h3v1h-3zM812 256h1v1h-1zM857 256h3v1h-3zM996 256h1v1h-1zM1049 256h4v1h-4zM811 257h1v1h-1zM997 257h1v1h-1zM1045 257h4v1h-4zM811 258h1v1h-1zM998 258h2v1h-2zM1041 258h4v1h-4zM810 259h1v1h-1zM1000 259h1v1h-1zM1037 259h4v1h-4zM810 260h1v1h-1zM1001 260h2v1h-2zM1033 260h4v1h-4zM809 261h1v1h-1zM1003 261h4v1h-4zM1014 261h8v1h-8zM1030 261h3v1h-3zM809 262h1v1h-1zM1007 262h7v1h-7zM1022 262h2v1h-2zM1027 262h3v1h-3zM808 263h1v1h-1zM1024 263h3v1h-3zM808 264h1v1h-1zM807 265h1v1h-1zM807 266h1v1h-1zM806 267h1v1h-1zM806 268h1v1h-1zM805 269h1v1h-1zM805 270h1v1h-1zM804 271h1v1h-1zM804 272h1v1h-1zM803 273h1v1h-1zM803 274h1v1h-1zM802 275h1v1h-1zM802 276h1v1h-1zM801 277h1v1h-1zM801 278h1v1h-1zM800 279h1v1h-1zM800 280h1v1h-1zM800 281h1v1h-1zM799 282h1v1h-1zM799 283h1v1h-1zM798 284h1v1h-1zM798 285h1v1h-1zM798 286h1v1h-1zM797 287h1v1h-1zM797 288h1v1h-1zM797 289h1v1h-1zM796 290h1v1h-1zM796 291h1v1h-1zM795 292h1v1h-1zM795 293h1v1h-1zM795 294h1v1h-1zM794 295h1v1h-1zM794 296h1v1h-1zM794 297h1v1h-1zM793 298h1v1h-1zM793 299h1v1h-1zM792 300h1v1h-1zM792 301h1v1h-1zM792 302h1v1h-1zM791 303h1v1h-1zM791 304h1v1h-1zM791 305h1v1h-1zM790 306h1v1h-1zM790 307h1v1h-1zM789 308h1v1h-1zM789 309h1v1h-1zM788 310h1v1h-1zM788 311h1v1h-1zM787 312h1v1h-1zM786 313h1v1h-1zM785 314h1v1h-1zM785 315h1v1h-1zM784 316h1v1h-1zM783 317h1v1h-1zM783 318h1v1h-1zM782 319h1v1h-1zM781 320h1v1h-1zM780 321h1v1h-1zM780 322h1v1h-1zM779 323h1v1h-1zM778 324h1v1h-1zM778 325h1v1h-1zM777 326h1v1h-1zM776 327h1v1h-1zM775 328h1v1h-1zM775 329h1v1h-1zM774 330h1v1h-1zM773 331h1v1h-1zM773 332h1v1h-1zM772 333h1v1h-1zM771 334h1v1h-1zM770 335h1v1h-1zM770 336h1v1h-1zM769 337h1v1h-1zM768 338h1v1h-1zM768 339h1v1h-1zM767 340h1v1h-1zM766 341h1v1h-1zM765 342h1v1h-1zM765 343h1v1h-1zM764 344h1v1h-1zM763 345h1v1h-1zM763 346h1v1h-1zM762 347h1v1h-1zM761 348h1v1h-1zM761 349h1v1h-1zM760 350h1v1h-1zM759 351h1v1h-1zM759 352h1v1h-1zM758 353h1v1h-1zM757 354h1v1h-1zM757 355h1v1h-1zM756 356h1v1h-1zM755 357h1v1h-1zM755 358h1v1h-1zM754 359h1v1h-1zM753 360h1v1h-1zM753 361h1v1h-1zM752 362h1v1h-1zM751 363h1v1h-1zM751 364h1v1h-1zM750 365h1v1h-1zM749 366h1v1h-1zM749 367h1v1h-1zM748 368h1v1h-1zM747 369h1v1h-1zM747 370h1v1h-1zM746 371h1v1h-1zM745 372h1v1h-1zM745 373h1v1h-1zM744 374h1v1h-1zM743 375h1v1h-1zM743 376h1v1h-1zM742 377h1v1h-1zM741 378h1v1h-1zM741 379h1v1h-1zM740 380h1v1h-1zM739 381h1v1h-1zM738 382h1v1h-1zM737 383h1v1h-1zM736 384h1v1h-1zM641 385h11v1h-11zM735 385h1v1h-1zM640 386h1v1h-1zM652 386h2v1h-2zM735 386h1v1h-1zM639 387h1v1h-1zM654 387h2v1h-2zM734 387h1v1h-1zM638 388h1v1h-1zM656 388h2v1h-2zM733 388h1v1h-1zM637 389h1v1h-1zM658 389h1v1h-1zM732 389h1v1h-1zM636 390h1v1h-1zM658 390h1v1h-1zM731 390h1v1h-1zM635 391h1v1h-1zM659 391h1v1h-1zM730 391h1v1h-1zM634 392h1v1h-1zM659 392h1v1h-1zM729 392h1v1h-1zM633 393h1v1h-1zM660 393h1v1h-1zM728 393h1v1h-1zM633 394h1v1h-1zM661 394h1v1h-1zM727 394h1v1h-1zM632 395h1v1h-1zM661 395h1v1h-1zM726 395h1v1h-1zM631 396h1v1h-1zM662 396h1v1h-1zM725 396h1v1h-1zM630 397h1v1h-1zM663 397h1v1h-1zM725 397h1v1h-1zM629 398h1v1h-1zM663 398h1v1h-1zM724 398h1v1h-1zM628 399h1v1h-1zM664 399h1v1h-1zM723 399h1v1h-1zM627 400h1v1h-1zM664 400h1v1h-1zM722 400h1v1h-1zM626 401h1v1h-1zM665 401h1v1h-1zM721 401h1v1h-1zM625 402h1v1h-1zM666 402h1v1h-1zM720 402h1v1h-1zM624 403h1v1h-1zM667 403h1v1h-1zM719 403h1v1h-1zM623 404h1v1h-1zM668 404h1v1h-1zM718 404h1v1h-1zM623 405h1v1h-1zM669 405h1v1h-1zM717 405h1v1h-1zM622 406h1v1h-1zM670 406h1v1h-1zM716 406h1v1h-1zM621 407h1v1h-1zM671 407h1v1h-1zM715 407h1v1h-1zM620 408h1v1h-1zM672 408h1v1h-1zM714 408h1v1h-1zM620 409h1v1h-1zM673 409h1v1h-1zM713 409h1v1h-1zM619 410h1v1h-1zM674 410h1v1h-1zM712 410h1v1h-1zM618 411h1v1h-1zM675 411h1v1h-1zM711 411h1v1h-1zM617 412h1v1h-1zM676 412h2v1h-2zM710 412h1v1h-1zM617 413h1v1h-1zM678 413h1v1h-1zM709 413h1v1h-1zM616 414h1v1h-1zM679 414h1v1h-1zM708 414h1v1h-1zM615 415h1v1h-1zM680 415h2v1h-2zM706 415h2v1h-2zM614 416h1v1h-1zM682 416h1v1h-1zM705 416h1v1h-1zM614 417h1v1h-1zM683 417h2v1h-2zM703 417h2v1h-2zM613 418h1v1h-1zM685 418h1v1h-1zM701 418h2v1h-2zM613 419h1v1h-1zM686 419h1v1h-1zM700 419h1v1h-1zM612 420h1v1h-1zM687 420h2v1h-2zM698 420h2v1h-2zM612 421h1v1h-1zM689 421h9v1h-9zM611 422h1v1h-1zM610 423h1v1h-1zM610 424h1v1h-1zM609 425h1v1h-1zM609 426h1v1h-1zM608 427h1v1h-1zM607 428h1v1h-1zM607 429h1v1h-1zM606 430h1v1h-1zM606 431h1v1h-1zM605 432h1v1h-1zM605 433h1v1h-1zM604 434h1v1h-1zM603 435h1v1h-1zM601 436h2v1h-2zM600 437h1v1h-1zM599 438h1v1h-1zM598 439h1v1h-1zM596 440h2v1h-2zM595 441h1v1h-1zM594 442h1v1h-1zM593 443h1v1h-1zM591 444h2v1h-2zM590 445h1v1h-1zM589 446h1v1h-1zM588 447h1v1h-1zM586 448h2v1h-2zM585 449h1v1h-1zM584 450h1v1h-1zM583 451h1v1h-1zM581 452h2v1h-2zM580 453h1v1h-1zM579 454h1v1h-1zM578 455h1v1h-1zM576 456h2v1h-2zM575 457h1v1h-1zM574 458h1v1h-1zM573 459h1v1h-1zM571 460h2v1h-2zM570 461h1v1h-1zM569 462h1v1h-1zM568 463h1v1h-1zM566 464h2v1h-2zM565 465h1v1h-1zM564 466h1v1h-1zM562 467h2v1h-2zM561 468h1v1h-1zM560 469h1v1h-1zM558 470h2v1h-2zM557 471h1v1h-1zM556 472h1v1h-1zM554 473h2v1h-2zM553 474h1v1h-1zM552 475h1v1h-1zM550 476h2v1h-2zM549 477h1v1h-1zM548 478h1v1h-1zM546 479h2v1h-2zM545 480h1v1h-1zM544 481h1v1h-1zM542 482h2v1h-2zM540 483h2v1h-2zM539 484h1v1h-1zM537 485h2v1h-2zM535 486h2v1h-2zM534 487h1v1h-1zM532 488h2v1h-2zM531 489h1v1h-1zM10 490h20v1h-20zM529 490h2v1h-2zM0 491h10v1h-10zM30 491h30v1h-30zM481 491h1v1h-1zM527 491h2v1h-2zM60 492h22v1h-22zM479 492h2v1h-2zM482 492h2v1h-2zM526 492h1v1h-1zM82 493h2v1h-2zM477 493h2v1h-2zM484 493h1v1h-1zM524 493h2v1h-2zM84 494h3v1h-3zM475 494h2v1h-2zM485 494h2v1h-2zM522 494h2v1h-2zM87 495h2v1h-2zM473 495h2v1h-2zM487 495h2v1h-2zM518 495h4v1h-4zM89 496h1v1h-1zM472 496h1v1h-1zM489 496h3v1h-3zM510 496h8v1h-8zM89 497h1v1h-1zM470 497h2v1h-2zM492 497h4v1h-4zM502 497h8v1h-8zM90 498h1v1h-1zM468 498h2v1h-2zM496 498h6v1h-6zM90 499h1v1h-1zM466 499h2v1h-2zM91 500h1v1h-1zM465 500h1v1h-1zM91 501h1v1h-1zM464 501h1v1h-1zM92 502h1v1h-1zM463 502h1v1h-1zM92 503h1v1h-1zM463 503h1v1h-1zM93 504h1v1h-1zM462 504h1v1h-1zM93 505h1v1h-1zM461 505h1v1h-1zM94 506h1v1h-1zM460 506h1v1h-1zM95 507h1v1h-1zM459 507h1v1h-1zM95 508h1v1h-1zM458 508h1v1h-1zM96 509h1v1h-1zM458 509h1v1h-1zM97 510h1v1h-1zM457 510h1v1h-1zM97 511h1v1h-1zM456 511h1v1h-1zM98 512h1v1h-1zM455 512h1v1h-1zM98 513h1v1h-1zM454 513h1v1h-1zM99 514h1v1h-1zM453 514h1v1h-1zM100 515h1v1h-1zM452 515h1v1h-1zM100 516h1v1h-1zM451 516h1v1h-1zM101 517h1v1h-1zM449 517h2v1h-2zM102 518h1v1h-1zM448 518h1v1h-1zM102 519h1v1h-1zM447 519h1v1h-1zM103 520h1v1h-1zM446 520h1v1h-1zM103 521h1v1h-1zM398 521h5v1h-5zM445 521h1v1h-1zM104 522h1v1h-1zM391 522h7v1h-7zM403 522h4v1h-4zM443 522h2v1h-2zM105 523h1v1h-1zM385 523h6v1h-6zM407 523h4v1h-4zM419 523h9v1h-9zM439 523h4v1h-4zM105 524h1v1h-1zM380 524h5v1h-5zM411 524h8v1h-8zM428 524h4v1h-4zM436 524h3v1h-3zM106 525h1v1h-1zM378 525h2v1h-2zM432 525h4v1h-4zM107 526h1v1h-1zM376 526h2v1h-2zM107 527h1v1h-1zM374 527h2v1h-2zM108 528h1v1h-1zM372 528h2v1h-2zM108 529h1v1h-1zM369 529h3v1h-3zM109 530h1v1h-1zM367 530h2v1h-2zM110 531h1v1h-1zM365 531h2v1h-2zM111 532h1v1h-1zM362 532h3v1h-3zM112 533h2v1h-2zM360 533h2v1h-2zM114 534h1v1h-1zM357 534h3v1h-3zM115 535h1v1h-1zM355 535h2v1h-2zM116 536h1v1h-1zM353 536h2v1h-2zM117 537h1v1h-1zM350 537h3v1h-3zM118 538h1v1h-1zM348 538h2v1h-2zM119 539h2v1h-2zM346 539h2v1h-2zM121 540h1v1h-1zM343 540h3v1h-3zM122 541h1v1h-1zM341 541h2v1h-2zM123 542h1v1h-1zM339 542h2v1h-2zM124 543h1v1h-1zM337 543h2v1h-2zM125 544h1v1h-1zM335 544h2v1h-2zM126 545h1v1h-1zM333 545h2v1h-2zM127 546h1v1h-1zM331 546h2v1h-2zM128 547h1v1h-1zM329 547h2v1h-2zM129 548h2v1h-2zM327 548h2v1h-2zM131 549h1v1h-1zM325 549h2v1h-2zM132 550h1v1h-1zM323 550h2v1h-2zM133 551h1v1h-1zM321 551h2v1h-2zM134 552h1v1h-1zM320 552h1v1h-1zM135 553h1v1h-1zM318 553h2v1h-2zM136 554h1v1h-1zM316 554h2v1h-2zM137 555h1v1h-1zM314 555h2v1h-2zM138 556h1v1h-1zM312 556h2v1h-2zM138 557h1v1h-1zM311 557h1v1h-1zM139 558h1v1h-1zM250 558h2v1h-2zM309 558h2v1h-2zM140 559h1v1h-1zM248 559h2v1h-2zM252 559h3v1h-3zM307 559h2v1h-2zM141 560h1v1h-1zM247 560h1v1h-1zM255 560h2v1h-2zM305 560h2v1h-2zM142 561h1v1h-1zM246 561h1v1h-1zM257 561h3v1h-3zM303 561h2v1h-2zM143 562h1v1h-1zM244 562h2v1h-2zM260 562h3v1h-3zM299 562h4v1h-4zM144 563h1v1h-1zM243 563h1v1h-1zM263 563h3v1h-3zM291 563h8v1h-8zM145 564h1v1h-1zM242 564h1v1h-1zM266 564h2v1h-2zM284 564h7v1h-7zM146 565h1v1h-1zM240 565h2v1h-2zM268 565h3v1h-3zM276 565h8v1h-8zM146 566h1v1h-1zM239 566h1v1h-1zM271 566h5v1h-5zM147 567h1v1h-1zM238 567h1v1h-1zM148 568h1v1h-1zM236 568h2v1h-2zM149 569h1v1h-1zM235 569h1v1h-1zM150 570h1v1h-1zM234 570h1v1h-1zM151 571h1v1h-1zM232 571h2v1h-2zM152 572h1v1h-1zM231 572h1v1h-1zM153 573h2v1h-2zM229 573h2v1h-2zM155 574h1v1h-1zM228 574h1v1h-1zM156 575h1v1h-1zM227 575h1v1h-1zM157 576h1v1h-1zM225 576h2v1h-2zM158 577h1v1h-1zM224 577h1v1h-1zM159 578h1v1h-1zM222 578h2v1h-2zM160 579h2v1h-2zM221 579h1v1h-1zM162 580h1v1h-1zM219 580h2v1h-2zM163 581h1v1h-1zM218 581h1v1h-1zM164 582h2v1h-2zM217 582h1v1h-1zM166 583h2v1h-2zM215 583h2v1h-2zM168 584h3v1h-3zM213 584h2v1h-2zM171 585h3v1h-3zM210 585h3v1h-3zM174 586h2v1h-2zM207 586h3v1h-3zM176 587h3v1h-3zM204 587h3v1h-3zM179 588h2v1h-2zM201 588h3v1h-3zM181 589h3v1h-3zM198 589h3v1h-3zM184 590h3v1h-3zM195 590h3v1h-3zM187 591h2v1h-2zM192 591h3v1h-3zM189 592h3v1h-3z" fill="#2aa862"/>
<rect x="1" y="441" width="1" height="23" fill="#000"/>
<rect x="-1" y="451" width="5" height="8" fill="#000"/>
<rect x="0" y="452" width="3" height="6" fill="#fff"/>
<rect x="9" y="419" width="1" height="33" fill="#000"/>
<rect x="7" y="423" width="5" height="29" fill="#000"/>
<rect x="8" y="424" width="3" height="27" fill="#fff"/>
<rect x="17" y="411" width="1" height="16" fill="#000"/>
<rect x="15" y="419" width="5" height="5" fill="#000"/>
<rect x="16" y="420" width="3" height="3" fill="#fff"/>
<rect x="25" y="409" width="1" height="13" fill="#000"/>
<rect x="23" y="414" width="5" height="4" fill="#000"/>
<rect x="24" y="415" width="3" height="2" fill="#fff"/>
<rect x="33" y="399" width="1" height="15" fill="#000"/>
<rect x="31" y="409" width="5" height="4" fill="#000"/>
<rect x="32" y="410" width="3" height="2" fill="#fff"/>
<rect x="41" y="403" width="1" height="19" fill="#000"/>
<rect x="39" y="409" width="5" height="7" fill="#000"/>
<rect x="49" y="410" width="1" height="29" fill="#000"/>
<rect x="47" y="416" width="5" height="21" fill="#000"/>
<rect x="57" y="432" width="1" height="18" fill="#000"/>
<rect x="55" y="436" width="5" height="14" fill="#000"/>
<rect x="65" y="439" width="1" height="12" fill="#000"/>
<rect x="63" y="439" width="5" height="10" fill="#000"/>
<rect x="64" y="440" width="3" height="8" fill="#fff"/>
<rect x="73" y="437" width="1" height="26" fill="#000"/>
<rect x="71" y="439" width="5" height="13" fill="#000"/>
<rect x="81" y="440" width="1" height="16" fill="#000"/>
<rect x="79" y="451" width="5" height="2" fill="#000"/>
<rect x="89" y="451" width="1" height="23" fill="#000"/>
<rect x="87" y="452" width="5" height="20" fill="#000"/>
<rect x="97" y="470" width="1" height="63" fill="#000"/>
<rect x="95" y="471" width="5" height="58" fill="#000"/>
<rect x="105" y="519" width="1" height="22" fill="#000"/>
<rect x="103" y="528" width="5" height="4" fill="#000"/>
<rect x="113" y="516" width="1" height="20" fill="#000"/>
<rect x="111" y="520" width="5" height="5" fill="#000"/>
<rect x="121" y="520" width="1" height="20" fill="#000"/>
<rect x="119" y="524" width="5" height="5" fill="#000"/>
<rect x="129" y="511" width="1" height="21" fill="#000"/>
<rect x="127" y="526" width="5" height="3" fill="#000"/>
<rect x="128" y="527" width="3" height="1" fill="#fff"/>
<rect x="137" y="521" width="1" height="30" fill="#000"/>
<rect x="135" y="526" width="5" height="11" fill="#000"/>
<rect x="145" y="512" width="1" height="35" fill="#000"/>
<rect x="143" y="536" width="5" height="1" fill="#000"/>
<rect x="153" y="533" width="1" height="23" fill="#000"/>
<rect x="151" y="536" width="5" height="18" fill="#000"/>
<rect x="161" y="546" width="1" height="12" fill="#000"/>
<rect x="159" y="546" width="5" height="7" fill="#000"/>
<rect x="160" y="547" width="3" height="5" fill="#fff"/>
<rect x="169" y="535" width="1" height="16" fill="#000"/>
<rect x="167" y="538" width="5" height="8" fill="#000"/>
<rect x="168" y="539" width="3" height="6" fill="#fff"/>
<rect x="177" y="535" width="1" height="24" fill="#000"/>
<rect x="175" y="537" width="5" height="16" fill="#000"/>
<rect x="185" y="527" width="1" height="29" fill="#000"/>
<rect x="183" y="531" width="5" height="21" fill="#000"/>
<rect x="184" y="532" width="3" height="19" fill="#fff"/>
<rect x="193" y="524" width="1" height="18" fill="#000"/>
<rect x="191" y="531" width="5" height="6" fill="#000"/>
<rect x="201" y="519" width="1" height="24" fill="#000"/>
<rect x="199" y="530" width="5" height="6" fill="#000"/>
<rect x="200" y="531" width="3" height="4" fill="#fff"/>
<rect x="209" y="528" width="1" height="15" fill="#000"/>
<rect x="207" y="531" width="5" height="4" fill="#000"/>
<rect x="217" y="518" width="1" height="17" fill="#000"/>
<rect x="215" y="526" width="5" height="9" fill="#000"/>
<rect x="216" y="527" width="3" height="7" fill="#fff"/>
<rect x="225" y="520" width="1" height="8" fill="#000"/>
<rect x="223" y="522" width="5" height="5" fill="#000"/>
<rect x="224" y="523" width="3" height="3" fill="#fff"/>
<rect x="233" y="493" width="1" height="34" fill="#000"/>
<rect x="231" y="503" width="5" height="19" fill="#000"/>
<rect x="232" y="504" width="3" height="17" fill="#fff"/>
<rect x="241" y="500" width="1" height="16" fill="#000"/>
<rect x="239" y="504" width="5" height="2" fill="#000"/>
<rect x="249" y="492" width="1" height="17" fill="#000"/>
<rect x="247" y="494" width="5" height="11" fill="#000"/>
<rect x="248" y="495" width="3" height="9" fill="#fff"/>
<rect x="257" y="488" width="1" height="13" fill="#000"/>
<rect x="255" y="489" width="5" height="5" fill="#000"/>
<rect x="256" y="490" width="3" height="3" fill="#fff"/>
<rect x="265" y="484" width="1" height="17" fill="#000"/>
<rect x="263" y="484" width="5" height="5" fill="#000"/>
<rect x="264" y="485" width="3" height="3" fill="#fff"/>
<rect x="273" y="483" width="1" height="8" fill="#000"/>
<rect x="271" y="485" width="5" height="1" fill="#000"/>
<rect x="281" y="484" width="1" height="26" fill="#000"/>
<rect x="279" y="485" width="5" height="14" fill="#000"/>
<rect x="289" y="483" width="1" height="32" fill="#000"/>
<rect x="287" y="499" width="5" height="12" fill="#000"/>
<rect x="297" y="509" width="1" height="11" fill="#000"/>
<rect x="295" y="510" width="5" height="8" fill="#000"/>
<rect x="305" y="510" width="1" height="15" fill="#000"/>
<rect x="303" y="512" width="5" height="6" fill="#000"/>
<rect x="304" y="513" width="3" height="4" fill="#fff"/>
<rect x="313" y="502" width="1" height="18" fill="#000"/>
<rect x="311" y="503" width="5" height="8" fill="#000"/>
<rect x="312" y="504" width="3" height="6" fill="#fff"/>
<rect x="321" y="483" width="1" height="23" fill="#000"/>
<rect x="319" y="499" width="5" height="5" fill="#000"/>
<rect x="320" y="500" width="3" height="3" fill="#fff"/>
<rect x="329" y="471" width="1" height="29" fill="#000"/>
<rect x="327" y="474" width="5" height="24" fill="#000"/>
<rect x="328" y="475" width="3" height="22" fill="#fff"/>
<rect x="337" y="468" width="1" height="23" fill="#000"/>
<rect x="335" y="474" width="5" height="5" fill="#000"/>
<rect x="345" y="477" width="1" height="13" fill="#000"/>
<rect x="343" y="479" width="5" height="3" fill="#000"/>
<rect x="353" y="466" width="1" height="10" fill="#000"/>
<rect x="351" y="469" width="5" height="5" fill="#000"/>
<rect x="352" y="470" width="3" height="3" fill="#fff"/>
<rect x="361" y="466" width="1" height="10" fill="#000"/>
<rect x="359" y="469" width="5" height="1" fill="#000"/>
<rect x="369" y="462" width="1" height="15" fill="#000"/>
<rect x="367" y="464" width="5" height="6" fill="#000"/>
<rect x="368" y="465" width="3" height="4" fill="#fff"/>
<rect x="377" y="447" width="1" height="18" fill="#000"/>
<rect x="375" y="460" width="5" height="4" fill="#000"/>
<rect x="376" y="461" width="3" height="2" fill="#fff"/>
<rect x="385" y="438" width="1" height="22" fill="#000"/>
<rect x="383" y="447" width="5" height="13" fill="#000"/>
<rect x="384" y="448" width="3" height="11" fill="#fff"/>
<rect x="393" y="440" width="1" height="22" fill="#000"/>
<rect x="391" y="447" width="5" height="11" fill="#000"/>
<rect x="401" y="450" width="1" height="10" fill="#000"/>
<rect x="399" y="453" width="5" height="5" fill="#000"/>
<rect x="400" y="454" width="3" height="3" fill="#fff"/>
<rect x="409" y="431" width="1" height="25" fill="#000"/>
<rect x="407" y="431" width="5" height="21" fill="#000"/>
<rect x="408" y="432" width="3" height="19" fill="#fff"/>
<rect x="417" y="427" width="1" height="36" fill="#000"/>
<rect x="415" y="431" width="5" height="23" fill="#000"/>
<rect x="425" y="440" width="1" height="35" fill="#000"/>
<rect x="423" y="450" width="5" height="4" fill="#000"/>
<rect x="424" y="451" width="3" height="2" fill="#fff"/>
<rect x="433" y="419" width="1" height="34" fill="#000"/>
<rect x="431" y="429" width="5" height="22" fill="#000"/>
<rect x="432" y="430" width="3" height="20" fill="#fff"/>
<rect x="441" y="426" width="1" height="16" fill="#000"/>
<rect x="439" y="429" width="5" height="5" fill="#000"/>
<rect x="449" y="431" width="1" height="7" fill="#000"/>
<rect x="447" y="433" width="5" height="1" fill="#000"/>
<rect x="457" y="429" width="1" height="7" fill="#000"/>
<rect x="455" y="433" width="5" height="1" fill="#000"/>
<rect x="465" y="428" width="1" height="9" fill="#000"/>
<rect x="463" y="433" width="5" height="1" fill="#000"/>
<rect x="473" y="411" width="1" height="24" fill="#000"/>
<rect x="471" y="415" width="5" height="18" fill="#000"/>
<rect x="472" y="416" width="3" height="16" fill="#fff"/>
<rect x="481" y="395" width="1" height="27" fill="#000"/>
<rect x="479" y="402" width="5" height="13" fill="#000"/>
<rect x="480" y="403" width="3" height="11" fill="#fff"/>
<rect x="489" y="368" width="1" height="36" fill="#000"/>
<rect x="487" y="370" width="5" height="33" fill="#000"/>
<rect x="488" y="371" width="3" height="31" fill="#fff"/>
<rect x="497" y="360" width="1" height="15" fill="#000"/>
<rect x="495" y="365" width="5" height="6" fill="#000"/>
<rect x="496" y="366" width="3" height="4" fill="#fff"/>
<rect x="505" y="349" width="1" height="24" fill="#000"/>
<rect x="503" y="364" width="5" height="2" fill="#000"/>
<rect x="513" y="348" width="1" height="20" fill="#000"/>
<rect x="511" y="356" width="5" height="9" fill="#000"/>
<rect x="512" y="357" width="3" height="7" fill="#fff"/>
<rect x="521" y="344" width="1" height="28" fill="#000"/>
<rect x="519" y="349" width="5" height="8" fill="#000"/>
<rect x="520" y="350" width="3" height="6" fill="#fff"/>
<rect x="529" y="347" width="1" height="45" fill="#000"/>
<rect x="527" y="347" width="5" height="31" fill="#000"/>
<rect x="537" y="369" width="1" height="13" fill="#000"/>
<rect x="535" y="370" width="5" height="8" fill="#000"/>
<rect x="536" y="371" width="3" height="6" fill="#fff"/>
<rect x="545" y="367" width="1" height="10" fill="#000"/>
<rect x="543" y="369" width="5" height="6" fill="#000"/>
<rect x="553" y="359" width="1" height="17" fill="#000"/>
<rect x="551" y="360" width="5" height="15" fill="#000"/>
<rect x="552" y="361" width="3" height="13" fill="#fff"/>
<rect x="561" y="350" width="1" height="14" fill="#000"/>
<rect x="559" y="357" width="5" height="3" fill="#000"/>
<rect x="560" y="358" width="3" height="1" fill="#fff"/>
<rect x="569" y="353" width="1" height="18" fill="#000"/>
<rect x="567" y="357" width="5" height="4" fill="#000"/>
<rect x="577" y="333" width="1" height="28" fill="#000"/>
<rect x="575" y="335" width="5" height="25" fill="#000"/>
<rect x="576" y="336" width="3" height="23" fill="#fff"/>
<rect x="585" y="325" width="1" height="13" fill="#000"/>
<rect x="583" y="330" width="5" height="5" fill="#000"/>
<rect x="584" y="331" width="3" height="3" fill="#fff"/>
<rect x="593" y="330" width="1" height="7" fill="#000"/>
<rect x="591" y="330" width="5" height="7" fill="#000"/>
<rect x="601" y="334" width="1" height="9" fill="#000"/>
<rect x="599" y="336" width="5" height="5" fill="#000"/>
<rect x="609" y="335" width="1" height="9" fill="#000"/>
<rect x="607" y="340" width="5" height="2" fill="#000"/>
<rect x="617" y="334" width="1" height="24" fill="#000"/>
<rect x="615" y="341" width="5" height="7" fill="#000"/>
<rect x="625" y="318" width="1" height="32" fill="#000"/>
<rect x="623" y="323" width="5" height="26" fill="#000"/>
<rect x="624" y="324" width="3" height="24" fill="#fff"/>
<rect x="633" y="315" width="1" height="14" fill="#000"/>
<rect x="631" y="323" width="5" height="1" fill="#000"/>
<rect x="641" y="314" width="1" height="13" fill="#000"/>
<rect x="639" y="315" width="5" height="8" fill="#000"/>
<rect x="640" y="316" width="3" height="6" fill="#fff"/>
<rect x="649" y="304" width="1" height="12" fill="#000"/>
<rect x="647" y="308" width="5" height="8" fill="#000"/>
<rect x="648" y="309" width="3" height="6" fill="#fff"/>
<rect x="657" y="285" width="1" height="24" fill="#000"/>
<rect x="655" y="285" width="5" height="23" fill="#000"/>
<rect x="656" y="286" width="3" height="21" fill="#fff"/>
<rect x="665" y="229" width="1" height="61" fill="#000"/>
<rect x="663" y="234" width="5" height="51" fill="#000"/>
<rect x="664" y="235" width="3" height="49" fill="#fff"/>
<rect x="673" y="215" width="1" height="31" fill="#000"/>
<rect x="671" y="222" width="5" height="12" fill="#000"/>
<rect x="672" y="223" width="3" height="10" fill="#fff"/>
<rect x="681" y="216" width="1" height="17" fill="#000"/>
<rect x="679" y="217" width="5" height="5" fill="#000"/>
<rect x="680" y="218" width="3" height="3" fill="#fff"/>
<rect x="689" y="184" width="1" height="35" fill="#000"/>
<rect x="687" y="186" width="5" height="31" fill="#000"/>
<rect x="688" y="187" width="3" height="29" fill="#fff"/>
<rect x="697" y="181" width="1" height="27" fill="#000"/>
<rect x="695" y="186" width="5" height="4" fill="#000"/>
<rect x="705" y="188" width="1" height="17" fill="#000"/>
<rect x="703" y="190" width="5" height="13" fill="#000"/>
<rect x="713" y="200" width="1" height="41" fill="#000"/>
<rect x="711" y="202" width="5" height="38" fill="#000"/>
<rect x="721" y="224" width="1" height="35" fill="#000"/>
<rect x="719" y="225" width="5" height="14" fill="#000"/>
<rect x="720" y="226" width="3" height="12" fill="#fff"/>
<rect x="729" y="220" width="1" height="12" fill="#000"/>
<rect x="727" y="223" width="5" height="3" fill="#000"/>
<rect x="728" y="224" width="3" height="1" fill="#fff"/>
<rect x="737" y="221" width="1" height="10" fill="#000"/>
<rect x="735" y="223" width="5" height="2" fill="#000"/>
<rect x="745" y="217" width="1" height="21" fill="#000"/>
<rect x="743" y="223" width="5" height="3" fill="#000"/>
<rect x="753" y="196" width="1" height="33" fill="#000"/>
<rect x="751" y="209" width="5" height="16" fill="#000"/>
<rect x="752" y="210" width="3" height="14" fill="#fff"/>
<rect x="761" y="195" width="1" height="28" fill="#000"/>
<rect x="759" y="202" width="5" height="7" fill="#000"/>
<rect x="760" y="203" width="3" height="5" fill="#fff"/>
<rect x="769" y="184" width="1" height="23" fill="#000"/>
<rect x="767" y="188" width="5" height="15" fill="#000"/>
<rect x="768" y="189" width="3" height="13" fill="#fff"/>
<rect x="777" y="171" width="1" height="20" fill="#000"/>
<rect x="775" y="172" width="5" height="16" fill="#000"/>
<rect x="776" y="173" width="3" height="14" fill="#fff"/>
<rect x="785" y="166" width="1" height="11" fill="#000"/>
<rect x="783" y="169" width="5" height="4" fill="#000"/>
<rect x="784" y="170" width="3" height="2" fill="#fff"/>
<rect x="793" y="168" width="1" height="37" fill="#000"/>
<rect x="791" y="169" width="5" height="32" fill="#000"/>
<rect x="801" y="180" width="1" height="36" fill="#000"/>
<rect x="799" y="200" width="5" height="1" fill="#000"/>
<rect x="809" y="198" width="1" height="30" fill="#000"/>
<rect x="807" y="201" width="5" height="1" fill="#000"/>
<rect x="817" y="174" width="1" height="30" fill="#000"/>
<rect x="815" y="187" width="5" height="14" fill="#000"/>
<rect x="816" y="188" width="3" height="12" fill="#fff"/>
<rect x="825" y="179" width="1" height="15" fill="#000"/>
<rect x="823" y="185" width="5" height="3" fill="#000"/>
<rect x="824" y="186" width="3" height="1" fill="#fff"/>
<rect x="833" y="178" width="1" height="8" fill="#000"/>
<rect x="831" y="182" width="5" height="1" fill="#000"/>
<rect x="841" y="147" width="1" height="47" fill="#000"/>
<rect x="839" y="151" width="5" height="31" fill="#000"/>
<rect x="840" y="152" width="3" height="29" fill="#fff"/>
<rect x="849" y="110" width="1" height="53" fill="#000"/>
<rect x="847" y="113" width="5" height="38" fill="#000"/>
<rect x="848" y="114" width="3" height="36" fill="#fff"/>
<rect x="857" y="48" width="1" height="79" fill="#000"/>
<rect x="855" y="113" width="5" height="9" fill="#000"/>
<rect x="865" y="119" width="1" height="56" fill="#000"/>
<rect x="863" y="122" width="5" height="48" fill="#000"/>
<rect x="873" y="141" width="1" height="37" fill="#000"/>
<rect x="871" y="142" width="5" height="28" fill="#000"/>
<rect x="872" y="143" width="3" height="26" fill="#fff"/>
<rect x="881" y="121" width="1" height="32" fill="#000"/>
<rect x="879" y="142" width="5" height="10" fill="#000"/>
<rect x="889" y="126" width="1" height="51" fill="#000"/>
<rect x="887" y="149" width="5" height="24" fill="#000"/>
<rect x="897" y="136" width="1" height="38" fill="#000"/>
<rect x="895" y="156" width="5" height="16" fill="#000"/>
<rect x="896" y="157" width="3" height="14" fill="#fff"/>
<rect x="905" y="125" width="1" height="42" fill="#000"/>
<rect x="903" y="138" width="5" height="18" fill="#000"/>
<rect x="904" y="139" width="3" height="16" fill="#fff"/>
<rect x="913" y="134" width="1" height="78" fill="#000"/>
<rect x="911" y="138" width="5" height="48" fill="#000"/>
<rect x="921" y="182" width="1" height="31" fill="#000"/>
<rect x="919" y="186" width="5" height="1" fill="#000"/>
<rect x="929" y="171" width="1" height="22" fill="#000"/>
<rect x="927" y="176" width="5" height="10" fill="#000"/>
<rect x="928" y="177" width="3" height="8" fill="#fff"/>
<rect x="937" y="177" width="1" height="81" fill="#000"/>
<rect x="935" y="177" width="5" height="66" fill="#000"/>
<rect x="945" y="218" width="1" height="31" fill="#000"/>
<rect x="943" y="222" width="5" height="20" fill="#000"/>
<rect x="944" y="223" width="3" height="18" fill="#fff"/>
<rect x="953" y="203" width="1" height="35" fill="#000"/>
<rect x="951" y="215" width="5" height="7" fill="#000"/>
<rect x="952" y="216" width="3" height="5" fill="#fff"/>
<rect x="961" y="190" width="1" height="29" fill="#000"/>
<rect x="959" y="208" width="5" height="7" fill="#000"/>
<rect x="960" y="209" width="3" height="5" fill="#fff"/>
<rect x="969" y="206" width="1" height="19" fill="#000"/>
<rect x="967" y="208" width="5" height="15" fill="#000"/>
<rect x="977" y="205" width="1" height="21" fill="#000"/>
<rect x="975" y="211" width="5" height="11" fill="#000"/>
<rect x="976" y="212" width="3" height="9" fill="#fff"/>
<rect x="985" y="189" width="1" height="28" fill="#000"/>
<rect x="983" y="205" width="5" height="5" fill="#000"/>
<rect x="984" y="206" width="3" height="3" fill="#fff"/>
<rect x="993" y="205" width="1" height="38" fill="#000"/>
<rect x="991" y="205" width="5" height="26" fill="#000"/>
<rect x="1001" y="210" width="1" height="31" fill="#000"/>
<rect x="999" y="230" width="5" height="6" fill="#000"/>
<rect x="1009" y="223" width="1" height="21" fill="#000"/>
<rect x="1007" y="234" width="5" height="2" fill="#000"/>
<rect x="1017" y="224" width="1" height="13" fill="#000"/>
<rect x="1015" y="226" width="5" height="8" fill="#000"/>
<rect x="1016" y="227" width="3" height="6" fill="#fff"/>
<rect x="1025" y="214" width="1" height="20" fill="#000"/>
<rect x="1023" y="220" width="5" height="5" fill="#000"/>
<rect x="1024" y="221" width="3" height="3" fill="#fff"/>
<rect x="1033" y="178" width="1" height="44" fill="#000"/>
<rect x="1031" y="183" width="5" height="38" fill="#000"/>
<rect x="1032" y="184" width="3" height="36" fill="#fff"/>
<rect x="1041" y="182" width="1" height="23" fill="#000"/>
<rect x="1039" y="182" width="5" height="5" fill="#000"/>
<rect x="1049" y="183" width="1" height="16" fill="#000"/>
<rect x="1047" y="187" width="5" height="5" fill="#000"/>
<rect x="1057" y="180" width="1" height="17" fill="#000"/>
<rect x="1055" y="192" width="5" height="2" fill="#000"/>
<rect x="1065" y="192" width="1" height="16" fill="#000"/>
<rect x="1063" y="193" width="5" height="3" fill="#000"/>
<rect x="1073" y="194" width="1" height="6" fill="#000"/>
<rect x="1071" y="194" width="5" height="2" fill="#000"/>
<rect x="1081" y="184" width="1" height="28" fill="#000"/>
<rect x="1079" y="186" width="5" height="10" fill="#000"/>
<rect x="1080" y="187" width="3" height="8" fill="#fff"/>
<rect x="1089" y="178" width="1" height="16" fill="#000"/>
<rect x="1087" y="184" width="5" height="3" fill="#000"/>
<rect x="1088" y="185" width="3" height="1" fill="#fff"/>
<rect x="1097" y="184" width="1" height="11" fill="#000"/>
<rect x="1095" y="184" width="5" height="9" fill="#000"/>
<rect x="1105" y="173" width="1" height="21" fill="#000"/>
<rect x="1103" y="186" width="5" height="6" fill="#000"/>
<rect x="1104" y="187" width="3" height="4" fill="#fff"/>
<rect x="1113" y="181" width="1" height="10" fill="#000"/>
<rect x="1111" y="184" width="5" height="3" fill="#000"/>
<rect x="1112" y="185" width="3" height="1" fill="#fff"/>
<rect x="1121" y="183" width="1" height="4" fill="#000"/>
<rect x="1119" y="184" width="5" height="1" fill="#000"/>
<rect x="1129" y="181" width="1" height="23" fill="#000"/>
<rect x="1127" y="184" width="5" height="13" fill="#000"/>
<rect x="1137" y="166" width="1" height="34" fill="#000"/>
<rect x="1135" y="172" width="5" height="25" fill="#000"/>
<rect x="1136" y="173" width="3" height="23" fill="#fff"/>
<rect x="1145" y="167" width="1" height="14" fill="#000"/>
<rect x="1143" y="168" width="5" height="4" fill="#000"/>
<rect x="1144" y="169" width="3" height="2" fill="#fff"/>
<rect x="1153" y="148" width="1" height="28" fill="#000"/>
<rect x="1151" y="156" width="5" height="12" fill="#000"/>
<rect x="1152" y="157" width="3" height="10" fill="#fff"/>
<rect x="1161" y="152" width="1" height="14" fill="#000"/>
<rect x="1159" y="156" width="5" height="4" fill="#000"/>
<rect x="1169" y="156" width="1" height="10" fill="#000"/>
<rect x="1167" y="158" width="5" height="3" fill="#000"/>
<rect x="1168" y="159" width="3" height="1" fill="#fff"/>
<rect x="1177" y="142" width="1" height="21" fill="#000"/>
<rect x="1175" y="156" width="5" height="4" fill="#000"/>
<rect x="1176" y="157" width="3" height="2" fill="#fff"/>
<rect x="1185" y="146" width="1" height="14" fill="#000"/>
<rect x="1183" y="153" width="5" height="4" fill="#000"/>
<rect x="1184" y="154" width="3" height="2" fill="#fff"/>
<rect x="1193" y="138" width="1" height="17" fill="#000"/>
<rect x="1191" y="144" width="5" height="8" fill="#000"/>
<rect x="1192" y="145" width="3" height="6" fill="#fff"/>
<rect x="1201" y="137" width="1" height="22" fill="#000"/>
<rect x="1199" y="144" width="5" height="11" fill="#000"/>
<rect x="1209" y="147" width="1" height="15" fill="#000"/>
<rect x="1207" y="153" width="5" height="1" fill="#000"/>
<rect x="1217" y="148" width="1" height="11" fill="#000"/>
<rect x="1215" y="154" width="5" height="5" fill="#000"/>
<rect x="1225" y="153" width="1" height="17" fill="#000"/>
<rect x="1223" y="156" width="5" height="2" fill="#000"/>
<rect x="1233" y="137" width="1" height="24" fill="#000"/>
<rect x="1231" y="148" width="5" height="7" fill="#000"/>
<rect x="1232" y="149" width="3" height="5" fill="#fff"/>
<rect x="1241" y="138" width="1" height="25" fill="#000"/>
<rect x="1239" y="143" width="5" height="5" fill="#000"/>
<rect x="1240" y="144" width="3" height="3" fill="#fff"/>
<rect x="1249" y="138" width="1" height="24" fill="#000"/>
<rect x="1247" y="143" width="5" height="17" fill="#000"/>
<rect x="1257" y="143" width="1" height="18" fill="#000"/>
<rect x="1255" y="146" width="5" height="13" fill="#000"/>
<rect x="1256" y="147" width="3" height="11" fill="#fff"/>
<rect x="1265" y="134" width="1" height="15" fill="#000"/>
<rect x="1263" y="142" width="5" height="5" fill="#000"/>
<rect x="1264" y="143" width="3" height="3" fill="#fff"/>
<rect x="1273" y="138" width="1" height="23" fill="#000"/>
<rect x="1271" y="140" width="5" height="7" fill="#000"/>
<rect x="1281" y="143" width="1" height="18" fill="#000"/>
<rect x="1279" y="147" width="5" height="10" fill="#000"/>
<rect x="1289" y="148" width="1" height="11" fill="#000"/>
<rect x="1287" y="154" width="5" height="3" fill="#000"/>
<rect x="1288" y="155" width="3" height="1" fill="#fff"/>
<rect x="1297" y="144" width="1" height="15" fill="#000"/>
<rect x="1295" y="149" width="5" height="6" fill="#000"/>
<rect x="1296" y="150" width="3" height="4" fill="#fff"/>
<rect x="1305" y="141" width="1" height="10" fill="#000"/>
<rect x="1303" y="143" width="5" height="6" fill="#000"/>
<rect x="1304" y="144" width="3" height="4" fill="#fff"/>
<rect x="1313" y="143" width="1" height="3" fill="#000"/>
<rect x="1311" y="143" width="5" height="3" fill="#000"/>
<rect x="1321" y="122" width="1" height="29" fill="#000"/>
<rect x="1319" y="127" width="5" height="17" fill="#000"/>
<rect x="1320" y="128" width="3" height="15" fill="#fff"/>
<rect x="1329" y="104" width="1" height="26" fill="#000"/>
<rect x="1327" y="104" width="5" height="24" fill="#000"/>
<rect x="1328" y="105" width="3" height="22" fill="#fff"/>
<rect x="1337" y="81" width="1" height="28" fill="#000"/>
<rect x="1335" y="81" width="5" height="23" fill="#000"/>
<rect x="1336" y="82" width="3" height="21" fill="#fff"/>
<rect x="1345" y="79" width="1" height="20" fill="#000"/>
<rect x="1343" y="81" width="5" height="7" fill="#000"/>
<rect x="1353" y="87" width="1" height="13" fill="#000"/>
<rect x="1351" y="87" width="5" height="11" fill="#000"/>
<rect x="1361" y="90" width="1" height="11" fill="#000"/>
<rect x="1359" y="96" width="5" height="3" fill="#000"/>
<rect x="1360" y="97" width="3" height="1" fill="#fff"/>
<rect x="1369" y="90" width="1" height="17" fill="#000"/>
<rect x="1367" y="95" width="5" height="3" fill="#000"/>
<rect x="1377" y="87" width="1" height="20" fill="#000"/>
<rect x="1375" y="97" width="5" height="1" fill="#000"/>
<rect x="1385" y="90" width="1" height="11" fill="#000"/>
<rect x="1383" y="95" width="5" height="3" fill="#000"/>
<rect x="1384" y="96" width="3" height="1" fill="#fff"/>
<rect x="1393" y="94" width="1" height="25" fill="#000"/>
<rect x="1391" y="95" width="5" height="8" fill="#000"/>
<rect x="1401" y="99" width="1" height="17" fill="#000"/>
<rect x="1399" y="104" width="5" height="8" fill="#000"/>
<rect x="1409" y="109" width="1" height="6" fill="#000"/>
<rect x="1407" y="112" width="5" height="3" fill="#000"/>
</g>
<path d="M1423 94h3v1h-3zM1420 95h6v1h-6zM1417 96h9v1h-9zM1413 97h10v1h-10zM1410 98h10v1h-10zM1407 99h10v1h-10zM1404 100h9v1h-9zM1401 101h9v1h-9zM1398 102h9v1h-9zM1394 103h10v1h-10zM1391 104h10v1h-10zM1388 105h10v1h-10zM1385 106h9v1h-9zM1382 107h9v1h-9zM1379 108h9v1h-9zM1375 109h10v1h-10zM1372 110h10v1h-10zM1369 111h10v1h-10zM1366 112h9v1h-9zM1363 113h9v1h-9zM1360 114h9v1h-9zM1356 115h10v1h-10zM1353 116h10v1h-10zM1350 117h10v1h-10zM1347 118h9v1h-9zM1344 119h9v1h-9zM1341 120h9v1h-9zM1337 121h10v1h-10zM1334 122h10v1h-10zM1331 123h10v1h-10zM1328 124h9v1h-9zM1325 125h9v1h-9zM1322 126h9v1h-9zM1318 127h10v1h-10zM1315 128h10v1h-10zM1312 129h10v1h-10zM1309 130h9v1h-9zM1306 131h9v1h-9zM1303 132h9v1h-9zM1300 133h9v1h-9zM1296 134h10v1h-10zM1293 135h10v1h-10zM1290 136h10v1h-10zM1287 137h9v1h-9zM1284 138h9v1h-9zM1281 139h9v1h-9zM1277 140h10v1h-10zM1274 141h10v1h-10zM1271 142h10v1h-10zM1268 143h9v1h-9zM1265 144h9v1h-9zM1262 145h9v1h-9zM1258 146h10v1h-10zM1255 147h10v1h-10zM1252 148h10v1h-10zM1249 149h9v1h-9zM1246 150h9v1h-9zM1243 151h9v1h-9zM1239 152h10v1h-10zM1236 153h10v1h-10zM1233 154h10v1h-10zM1230 155h9v1h-9zM1227 156h9v1h-9zM1224 157h9v1h-9zM1220 158h10v1h-10zM1217 159h10v1h-10zM1214 160h10v1h-10zM1211 161h9v1h-9zM1208 162h9v1h-9zM1205 163h9v1h-9zM1201 164h10v1h-10zM1198 165h10v1h-10zM1195 166h10v1h-10zM1192 167h9v1h-9zM1189 168h9v1h-9zM1186 169h9v1h-9zM1182 170h10v1h-10zM1179 171h10v1h-10zM1176 172h10v1h-10zM1173 173h9v1h-9zM1170 174h9v1h-9zM1167 175h9v1h-9zM1163 176h10v1h-10zM1160 177h10v1h-10zM1157 178h10v1h-10zM1154 179h9v1h-9zM1151 180h9v1h-9zM1148 181h9v1h-9zM1144 182h10v1h-10zM1141 183h10v1h-10zM1138 184h10v1h-10zM1135 185h9v1h-9zM1132 186h9v1h-9zM1129 187h9v1h-9zM1125 188h10v1h-10zM1122 189h10v1h-10zM1119 190h10v1h-10zM1116 191h9v1h-9zM1113 192h9v1h-9zM1110 193h9v1h-9zM1106 194h10v1h-10zM1103 195h10v1h-10zM1100 196h10v1h-10zM1097 197h9v1h-9zM1094 198h9v1h-9zM1091 199h9v1h-9zM1087 200h10v1h-10zM1084 201h10v1h-10zM1081 202h10v1h-10zM1078 203h9v1h-9zM1075 204h9v1h-9zM1072 205h9v1h-9zM1068 206h10v1h-10zM1065 207h10v1h-10zM1062 208h10v1h-10zM1059 209h9v1h-9zM1056 210h9v1h-9zM1053 211h9v1h-9zM1049 212h10v1h-10zM1046 213h10v1h-10zM1043 214h10v1h-10zM1040 215h9v1h-9zM1037 216h9v1h-9zM1034 217h9v1h-9zM1030 218h10v1h-10zM1027 219h10v1h-10zM1024 220h10v1h-10zM1021 221h9v1h-9zM1018 222h9v1h-9zM1015 223h9v1h-9zM1011 224h10v1h-10zM1008 225h10v1h-10zM1005 226h10v1h-10zM1004 227h7v1h-7zM1003 228h5v1h-5zM1004 229h1v1h-1z" fill="#ff0000"/>
<polygon points="1423.6,90.8 1435.0,90.8 1436.4,92.4 1428.0,100.3 1426.2,100.3" fill="#ff0000" shape-rendering="crispEdges"/>
<polyline points="848,48.5 857.5,48.5" fill="none" stroke="#ff0000" stroke-width="1" shape-rendering="crispEdges"/>
<rect x="786.5" y="39.5" width="61" height="18" fill="#fff" stroke="#ff0000" stroke-width="1"/>
<text x="817.5" y="55.0" font-size="16" fill="#ff0000" text-anchor="middle" textLength="57" lengthAdjust="spacingAndGlyphs">164.640</text>
<polyline points="928,258.5 937.5,258.5" fill="none" stroke="#ff0000" stroke-width="1" shape-rendering="crispEdges"/>
<rect x="866.5" y="249.5" width="61" height="18" fill="#fff" stroke="#ff0000" stroke-width="1"/>
<text x="897.5" y="265.0" font-size="16" fill="#ff0000" text-anchor="middle" textLength="57" lengthAdjust="spacingAndGlyphs">159.010</text>
<polyline points="1120,116.5 1132,116.5" fill="none" stroke="#ff0000" stroke-width="1" shape-rendering="crispEdges"/>
<rect x="1132.5" y="104.5" width="73" height="24" fill="#fff" stroke="#ff0000" stroke-width="1"/>
<text x="1169.5" y="124.4" font-size="20" fill="#ff0000" text-anchor="middle" textLength="69.5" lengthAdjust="spacingAndGlyphs">162.817</text>
<polyline points="1336,79.5 1345.5,79.5" fill="none" stroke="#ff0000" stroke-width="1" shape-rendering="crispEdges"/>
<rect x="1274.5" y="70.5" width="61" height="18" fill="#fff" stroke="#ff0000" stroke-width="1"/>
<text x="1305.5" y="86.0" font-size="16" fill="#ff0000" text-anchor="middle" textLength="57" lengthAdjust="spacingAndGlyphs">163.809</text>
<g clip-path="url(#cMacd)">
<g shape-rendering="crispEdges">
<rect x="1" y="681" width="1" height="34" fill="#c0c0c0"/>
<rect x="9" y="681" width="1" height="27" fill="#c0c0c0"/>
<rect x="17" y="681" width="1" height="20" fill="#c0c0c0"/>
<rect x="25" y="681" width="1" height="13" fill="#c0c0c0"/>
<rect x="33" y="681" width="1" height="7" fill="#c0c0c0"/>
<rect x="41" y="681" width="1" height="4" fill="#c0c0c0"/>
<rect x="49" y="681" width="1" height="4" fill="#c0c0c0"/>
<rect x="57" y="681" width="1" height="6" fill="#c0c0c0"/>
<rect x="65" y="681" width="1" height="6" fill="#c0c0c0"/>
<rect x="73" y="681" width="1" height="8" fill="#c0c0c0"/>
<rect x="81" y="681" width="1" height="10" fill="#c0c0c0"/>
<rect x="89" y="681" width="1" height="13" fill="#c0c0c0"/>
<rect x="97" y="681" width="1" height="26" fill="#c0c0c0"/>
<rect x="105" y="681" width="1" height="35" fill="#c0c0c0"/>
<rect x="113" y="681" width="1" height="41" fill="#c0c0c0"/>
<rect x="121" y="681" width="1" height="46" fill="#c0c0c0"/>
<rect x="129" y="681" width="1" height="49" fill="#c0c0c0"/>
<rect x="137" y="681" width="1" height="51" fill="#c0c0c0"/>
<rect x="145" y="681" width="1" height="53" fill="#c0c0c0"/>
<rect x="153" y="681" width="1" height="57" fill="#c0c0c0"/>
<rect x="161" y="681" width="1" height="57" fill="#c0c0c0"/>
<rect x="169" y="681" width="1" height="57" fill="#c0c0c0"/>
<rect x="177" y="681" width="1" height="57" fill="#c0c0c0"/>
<rect x="185" y="681" width="1" height="54" fill="#c0c0c0"/>
<rect x="193" y="681" width="1" height="51" fill="#c0c0c0"/>
<rect x="201" y="681" width="1" height="48" fill="#c0c0c0"/>
<rect x="209" y="681" width="1" height="45" fill="#c0c0c0"/>
<rect x="217" y="681" width="1" height="42" fill="#c0c0c0"/>
<rect x="225" y="681" width="1" height="38" fill="#c0c0c0"/>
<rect x="233" y="681" width="1" height="31" fill="#c0c0c0"/>
<rect x="241" y="681" width="1" height="26" fill="#c0c0c0"/>
<rect x="249" y="681" width="1" height="20" fill="#c0c0c0"/>
<rect x="257" y="681" width="1" height="14" fill="#c0c0c0"/>
<rect x="265" y="681" width="1" height="9" fill="#c0c0c0"/>
<rect x="273" y="681" width="1" height="4" fill="#c0c0c0"/>
<rect x="281" y="681" width="1" height="3" fill="#c0c0c0"/>
<rect x="289" y="681" width="1" height="4" fill="#c0c0c0"/>
<rect x="297" y="681" width="1" height="5" fill="#c0c0c0"/>
<rect x="305" y="681" width="1" height="6" fill="#c0c0c0"/>
<rect x="313" y="681" width="1" height="5" fill="#c0c0c0"/>
<rect x="321" y="681" width="1" height="3" fill="#c0c0c0"/>
<rect x="329" y="680" width="1" height="2" fill="#c0c0c0"/>
<rect x="337" y="677" width="1" height="5" fill="#c0c0c0"/>
<rect x="345" y="675" width="1" height="7" fill="#c0c0c0"/>
<rect x="353" y="672" width="1" height="10" fill="#c0c0c0"/>
<rect x="361" y="669" width="1" height="13" fill="#c0c0c0"/>
<rect x="369" y="666" width="1" height="16" fill="#c0c0c0"/>
<rect x="377" y="664" width="1" height="18" fill="#c0c0c0"/>
<rect x="385" y="660" width="1" height="22" fill="#c0c0c0"/>
<rect x="393" y="659" width="1" height="23" fill="#c0c0c0"/>
<rect x="401" y="658" width="1" height="24" fill="#c0c0c0"/>
<rect x="409" y="654" width="1" height="28" fill="#c0c0c0"/>
<rect x="417" y="654" width="1" height="28" fill="#c0c0c0"/>
<rect x="425" y="655" width="1" height="27" fill="#c0c0c0"/>
<rect x="433" y="652" width="1" height="30" fill="#c0c0c0"/>
<rect x="441" y="651" width="1" height="31" fill="#c0c0c0"/>
<rect x="449" y="650" width="1" height="32" fill="#c0c0c0"/>
<rect x="457" y="650" width="1" height="32" fill="#c0c0c0"/>
<rect x="465" y="650" width="1" height="32" fill="#c0c0c0"/>
<rect x="473" y="648" width="1" height="34" fill="#c0c0c0"/>
<rect x="481" y="645" width="1" height="37" fill="#c0c0c0"/>
<rect x="489" y="638" width="1" height="44" fill="#c0c0c0"/>
<rect x="497" y="632" width="1" height="50" fill="#c0c0c0"/>
<rect x="505" y="628" width="1" height="54" fill="#c0c0c0"/>
<rect x="513" y="624" width="1" height="58" fill="#c0c0c0"/>
<rect x="521" y="620" width="1" height="62" fill="#c0c0c0"/>
<rect x="529" y="623" width="1" height="59" fill="#c0c0c0"/>
<rect x="537" y="624" width="1" height="58" fill="#c0c0c0"/>
<rect x="545" y="626" width="1" height="56" fill="#c0c0c0"/>
<rect x="553" y="627" width="1" height="55" fill="#c0c0c0"/>
<rect x="561" y="627" width="1" height="55" fill="#c0c0c0"/>
<rect x="569" y="629" width="1" height="53" fill="#c0c0c0"/>
<rect x="577" y="627" width="1" height="55" fill="#c0c0c0"/>
<rect x="585" y="626" width="1" height="56" fill="#c0c0c0"/>
<rect x="593" y="626" width="1" height="56" fill="#c0c0c0"/>
<rect x="601" y="626" width="1" height="56" fill="#c0c0c0"/>
<rect x="609" y="628" width="1" height="54" fill="#c0c0c0"/>
<rect x="617" y="632" width="1" height="50" fill="#c0c0c0"/>
<rect x="625" y="631" width="1" height="51" fill="#c0c0c0"/>
<rect x="633" y="631" width="1" height="51" fill="#c0c0c0"/>
<rect x="641" y="630" width="1" height="52" fill="#c0c0c0"/>
<rect x="649" y="629" width="1" height="53" fill="#c0c0c0"/>
<rect x="657" y="626" width="1" height="56" fill="#c0c0c0"/>
<rect x="665" y="615" width="1" height="67" fill="#c0c0c0"/>
<rect x="673" y="606" width="1" height="76" fill="#c0c0c0"/>
<rect x="681" y="600" width="1" height="82" fill="#c0c0c0"/>
<rect x="689" y="590" width="1" height="92" fill="#c0c0c0"/>
<rect x="697" y="585" width="1" height="97" fill="#c0c0c0"/>
<rect x="705" y="583" width="1" height="99" fill="#c0c0c0"/>
<rect x="713" y="589" width="1" height="93" fill="#c0c0c0"/>
<rect x="721" y="592" width="1" height="90" fill="#c0c0c0"/>
<rect x="729" y="596" width="1" height="86" fill="#c0c0c0"/>
<rect x="737" y="599" width="1" height="83" fill="#c0c0c0"/>
<rect x="745" y="603" width="1" height="79" fill="#c0c0c0"/>
<rect x="753" y="605" width="1" height="77" fill="#c0c0c0"/>
<rect x="761" y="606" width="1" height="76" fill="#c0c0c0"/>
<rect x="769" y="606" width="1" height="76" fill="#c0c0c0"/>
<rect x="777" y="604" width="1" height="78" fill="#c0c0c0"/>
<rect x="785" y="603" width="1" height="79" fill="#c0c0c0"/>
<rect x="793" y="608" width="1" height="74" fill="#c0c0c0"/>
<rect x="801" y="612" width="1" height="70" fill="#c0c0c0"/>
<rect x="809" y="617" width="1" height="65" fill="#c0c0c0"/>
<rect x="817" y="619" width="1" height="63" fill="#c0c0c0"/>
<rect x="825" y="621" width="1" height="61" fill="#c0c0c0"/>
<rect x="833" y="623" width="1" height="59" fill="#c0c0c0"/>
<rect x="841" y="620" width="1" height="62" fill="#c0c0c0"/>
<rect x="849" y="613" width="1" height="69" fill="#c0c0c0"/>
<rect x="857" y="610" width="1" height="72" fill="#c0c0c0"/>
<rect x="865" y="616" width="1" height="66" fill="#c0c0c0"/>
<rect x="873" y="616" width="1" height="66" fill="#c0c0c0"/>
<rect x="881" y="619" width="1" height="63" fill="#c0c0c0"/>
<rect x="889" y="625" width="1" height="57" fill="#c0c0c0"/>
<rect x="897" y="628" width="1" height="54" fill="#c0c0c0"/>
<rect x="905" y="628" width="1" height="54" fill="#c0c0c0"/>
<rect x="913" y="636" width="1" height="46" fill="#c0c0c0"/>
<rect x="921" y="643" width="1" height="39" fill="#c0c0c0"/>
<rect x="929" y="647" width="1" height="35" fill="#c0c0c0"/>
<rect x="937" y="661" width="1" height="21" fill="#c0c0c0"/>
<rect x="945" y="669" width="1" height="13" fill="#c0c0c0"/>
<rect x="953" y="675" width="1" height="7" fill="#c0c0c0"/>
<rect x="961" y="678" width="1" height="4" fill="#c0c0c0"/>
<rect x="969" y="681" width="1" height="1" fill="#c0c0c0"/>
<rect x="977" y="681" width="1" height="3" fill="#c0c0c0"/>
<rect x="985" y="681" width="1" height="3" fill="#c0c0c0"/>
<rect x="993" y="681" width="1" height="7" fill="#c0c0c0"/>
<rect x="1001" y="681" width="1" height="11" fill="#c0c0c0"/>
<rect x="1009" y="681" width="1" height="14" fill="#c0c0c0"/>
<rect x="1017" y="681" width="1" height="15" fill="#c0c0c0"/>
<rect x="1025" y="681" width="1" height="15" fill="#c0c0c0"/>
<rect x="1033" y="681" width="1" height="8" fill="#c0c0c0"/>
<rect x="1041" y="681" width="1" height="4" fill="#c0c0c0"/>
<rect x="1049" y="681" width="1" height="2" fill="#c0c0c0"/>
<rect x="1065" y="681" width="1" height="1" fill="#c0c0c0"/>
<rect x="1073" y="680" width="1" height="2" fill="#c0c0c0"/>
<rect x="1081" y="678" width="1" height="4" fill="#c0c0c0"/>
<rect x="1089" y="676" width="1" height="6" fill="#c0c0c0"/>
<rect x="1097" y="675" width="1" height="7" fill="#c0c0c0"/>
<rect x="1105" y="675" width="1" height="7" fill="#c0c0c0"/>
<rect x="1113" y="674" width="1" height="8" fill="#c0c0c0"/>
<rect x="1121" y="673" width="1" height="9" fill="#c0c0c0"/>
<rect x="1129" y="674" width="1" height="8" fill="#c0c0c0"/>
<rect x="1137" y="672" width="1" height="10" fill="#c0c0c0"/>
<rect x="1145" y="669" width="1" height="13" fill="#c0c0c0"/>
<rect x="1153" y="666" width="1" height="16" fill="#c0c0c0"/>
<rect x="1161" y="664" width="1" height="18" fill="#c0c0c0"/>
<rect x="1169" y="662" width="1" height="20" fill="#c0c0c0"/>
<rect x="1177" y="661" width="1" height="21" fill="#c0c0c0"/>
<rect x="1185" y="659" width="1" height="23" fill="#c0c0c0"/>
<rect x="1193" y="657" width="1" height="25" fill="#c0c0c0"/>
<rect x="1201" y="657" width="1" height="25" fill="#c0c0c0"/>
<rect x="1209" y="657" width="1" height="25" fill="#c0c0c0"/>
<rect x="1217" y="659" width="1" height="23" fill="#c0c0c0"/>
<rect x="1225" y="660" width="1" height="22" fill="#c0c0c0"/>
<rect x="1233" y="659" width="1" height="23" fill="#c0c0c0"/>
<rect x="1241" y="659" width="1" height="23" fill="#c0c0c0"/>
<rect x="1249" y="661" width="1" height="21" fill="#c0c0c0"/>
<rect x="1257" y="661" width="1" height="21" fill="#c0c0c0"/>
<rect x="1265" y="661" width="1" height="21" fill="#c0c0c0"/>
<rect x="1273" y="662" width="1" height="20" fill="#c0c0c0"/>
<rect x="1281" y="664" width="1" height="18" fill="#c0c0c0"/>
<rect x="1289" y="665" width="1" height="17" fill="#c0c0c0"/>
<rect x="1297" y="665" width="1" height="17" fill="#c0c0c0"/>
<rect x="1305" y="665" width="1" height="17" fill="#c0c0c0"/>
<rect x="1313" y="665" width="1" height="17" fill="#c0c0c0"/>
<rect x="1321" y="662" width="1" height="20" fill="#c0c0c0"/>
<rect x="1329" y="656" width="1" height="26" fill="#c0c0c0"/>
<rect x="1337" y="651" width="1" height="31" fill="#c0c0c0"/>
<rect x="1345" y="647" width="1" height="35" fill="#c0c0c0"/>
<rect x="1353" y="645" width="1" height="37" fill="#c0c0c0"/>
<rect x="1361" y="644" width="1" height="38" fill="#c0c0c0"/>
<rect x="1369" y="644" width="1" height="38" fill="#c0c0c0"/>
<rect x="1377" y="644" width="1" height="38" fill="#c0c0c0"/>
<rect x="1385" y="645" width="1" height="37" fill="#c0c0c0"/>
<rect x="1393" y="646" width="1" height="36" fill="#c0c0c0"/>
<rect x="1401" y="649" width="1" height="33" fill="#c0c0c0"/>
<rect x="1409" y="653" width="1" height="29" fill="#c0c0c0"/>
</g>
<path d="M738 592h3v1h-3zM744 592h3v1h-3zM750 592h1v1h-1zM733 593h2v1h-2zM751 593h2v1h-2zM732 594h1v1h-1zM756 594h3v1h-3zM726 595h3v1h-3zM762 595h1v1h-1zM763 596h2v1h-2zM721 597h2v1h-2zM768 597h3v1h-3zM720 598h1v1h-1zM774 598h3v1h-3zM780 599h3v1h-3zM715 600h2v1h-2zM786 600h2v1h-2zM714 601h1v1h-1zM788 601h1v1h-1zM792 602h3v1h-3zM710 603h1v1h-1zM798 603h2v1h-2zM708 604h2v1h-2zM800 604h1v1h-1zM804 605h3v1h-3zM810 606h1v1h-1zM703 607h2v1h-2zM811 607h2v1h-2zM702 608h1v1h-1zM816 608h3v1h-3zM822 609h3v1h-3zM698 610h1v1h-1zM828 610h2v1h-2zM696 611h2v1h-2zM830 611h1v1h-1zM834 611h2v1h-2zM836 612h1v1h-1zM840 612h3v1h-3zM846 613h3v1h-3zM852 613h1v1h-1zM692 614h1v1h-1zM853 614h2v1h-2zM858 614h3v1h-3zM690 615h2v1h-2zM864 615h3v1h-3zM870 616h3v1h-3zM876 616h3v1h-3zM882 616h3v1h-3zM888 616h3v1h-3zM894 617h3v1h-3zM900 617h3v1h-3zM686 618h1v1h-1zM906 618h3v1h-3zM684 619h2v1h-2zM912 619h1v1h-1zM913 620h2v1h-2zM679 621h2v1h-2zM678 622h1v1h-1zM918 622h1v1h-1zM672 623h3v1h-3zM919 623h2v1h-2zM565 624h2v1h-2zM570 624h3v1h-3zM576 624h3v1h-3zM582 624h3v1h-3zM588 624h3v1h-3zM558 625h3v1h-3zM564 625h1v1h-1zM594 625h3v1h-3zM600 625h3v1h-3zM666 625h3v1h-3zM924 625h1v1h-1zM552 626h3v1h-3zM606 626h3v1h-3zM612 626h3v1h-3zM618 626h3v1h-3zM925 626h2v1h-2zM548 627h1v1h-1zM624 627h3v1h-3zM630 627h3v1h-3zM636 627h3v1h-3zM642 627h3v1h-3zM660 627h3v1h-3zM546 628h2v1h-2zM648 628h3v1h-3zM654 628h3v1h-3zM541 629h2v1h-2zM930 629h2v1h-2zM540 630h1v1h-1zM932 630h1v1h-1zM534 631h3v1h-3zM936 632h1v1h-1zM528 633h3v1h-3zM937 633h1v1h-1zM938 634h1v1h-1zM522 635h3v1h-3zM516 637h3v1h-3zM942 637h1v1h-1zM943 638h2v1h-2zM510 639h3v1h-3zM504 641h3v1h-3zM948 641h1v1h-1zM949 642h1v1h-1zM499 643h2v1h-2zM950 643h1v1h-1zM498 644h1v1h-1zM494 645h1v1h-1zM492 646h2v1h-2zM954 646h1v1h-1zM1404 646h3v1h-3zM488 647h1v1h-1zM955 647h1v1h-1zM1398 647h3v1h-3zM482 648h1v1h-1zM486 648h2v1h-2zM956 648h1v1h-1zM1387 648h2v1h-2zM1392 648h3v1h-3zM476 649h1v1h-1zM480 649h2v1h-2zM1381 649h2v1h-2zM1386 649h1v1h-1zM470 650h1v1h-1zM474 650h2v1h-2zM1375 650h2v1h-2zM1380 650h1v1h-1zM464 651h1v1h-1zM468 651h2v1h-2zM960 651h2v1h-2zM1374 651h1v1h-1zM458 652h1v1h-1zM462 652h2v1h-2zM962 652h1v1h-1zM1368 652h3v1h-3zM452 653h1v1h-1zM456 653h2v1h-2zM446 654h1v1h-1zM450 654h2v1h-2zM1362 654h3v1h-3zM444 655h2v1h-2zM966 655h1v1h-1zM1358 655h1v1h-1zM438 656h3v1h-3zM967 656h1v1h-1zM1356 656h2v1h-2zM432 657h3v1h-3zM968 657h1v1h-1zM1350 657h3v1h-3zM427 658h2v1h-2zM1226 658h1v1h-1zM1230 658h3v1h-3zM1236 658h3v1h-3zM1242 658h3v1h-3zM1248 658h3v1h-3zM1254 658h3v1h-3zM1260 658h3v1h-3zM1266 658h3v1h-3zM1272 658h3v1h-3zM1278 658h3v1h-3zM1345 658h2v1h-2zM426 659h1v1h-1zM1212 659h3v1h-3zM1218 659h3v1h-3zM1224 659h2v1h-2zM1284 659h3v1h-3zM1344 659h1v1h-1zM420 660h3v1h-3zM972 660h2v1h-2zM1206 660h3v1h-3zM1290 660h3v1h-3zM1296 660h1v1h-1zM1338 660h3v1h-3zM415 661h2v1h-2zM974 661h1v1h-1zM1201 661h2v1h-2zM1297 661h2v1h-2zM1302 661h3v1h-3zM1332 661h3v1h-3zM414 662h1v1h-1zM1196 662h1v1h-1zM1200 662h1v1h-1zM1308 662h3v1h-3zM1314 662h3v1h-3zM1320 662h3v1h-3zM1326 662h3v1h-3zM409 663h2v1h-2zM1194 663h2v1h-2zM408 664h1v1h-1zM978 664h1v1h-1zM1188 664h3v1h-3zM403 665h2v1h-2zM979 665h2v1h-2zM1182 665h3v1h-3zM402 666h1v1h-1zM1177 666h2v1h-2zM396 667h3v1h-3zM1172 667h1v1h-1zM1176 667h1v1h-1zM392 668h1v1h-1zM984 668h1v1h-1zM1170 668h2v1h-2zM390 669h2v1h-2zM985 669h2v1h-2zM1164 669h3v1h-3zM385 670h2v1h-2zM1160 670h1v1h-1zM384 671h1v1h-1zM1158 671h2v1h-2zM380 672h1v1h-1zM990 672h1v1h-1zM1152 672h3v1h-3zM378 673h2v1h-2zM991 673h2v1h-2zM1140 673h3v1h-3zM1146 673h3v1h-3zM1129 674h2v1h-2zM1134 674h3v1h-3zM373 675h2v1h-2zM1122 675h3v1h-3zM1128 675h1v1h-1zM372 676h1v1h-1zM996 676h1v1h-1zM1116 676h3v1h-3zM367 677h2v1h-2zM997 677h2v1h-2zM1110 677h3v1h-3zM362 678h1v1h-1zM366 678h1v1h-1zM1104 678h3v1h-3zM360 679h2v1h-2zM1002 679h1v1h-1zM1099 679h2v1h-2zM354 680h3v1h-3zM1003 680h2v1h-2zM1098 680h1v1h-1zM348 681h3v1h-3zM1093 681h2v1h-2zM344 682h1v1h-1zM1008 682h2v1h-2zM1092 682h1v1h-1zM342 683h2v1h-2zM1010 683h1v1h-1zM1087 683h2v1h-2zM336 684h3v1h-3zM1086 684h1v1h-1zM330 685h3v1h-3zM1014 685h2v1h-2zM1080 685h3v1h-3zM324 686h3v1h-3zM1016 686h1v1h-1zM1076 686h1v1h-1zM319 687h2v1h-2zM1074 687h2v1h-2zM318 688h1v1h-1zM1020 688h3v1h-3zM1068 688h3v1h-3zM80 689h1v1h-1zM84 689h3v1h-3zM312 689h3v1h-3zM1026 689h3v1h-3zM1062 689h3v1h-3zM78 690h2v1h-2zM90 690h3v1h-3zM96 690h3v1h-3zM308 690h1v1h-1zM1032 690h3v1h-3zM1038 690h3v1h-3zM1044 690h3v1h-3zM1050 690h3v1h-3zM1056 690h3v1h-3zM72 691h3v1h-3zM306 691h2v1h-2zM102 692h3v1h-3zM302 692h1v1h-1zM66 693h3v1h-3zM300 693h2v1h-2zM108 694h2v1h-2zM62 695h1v1h-1zM110 695h1v1h-1zM295 695h2v1h-2zM60 696h2v1h-2zM294 696h1v1h-1zM114 697h1v1h-1zM290 697h1v1h-1zM55 698h2v1h-2zM115 698h1v1h-1zM288 698h2v1h-2zM54 699h1v1h-1zM116 699h1v1h-1zM284 700h1v1h-1zM49 701h2v1h-2zM120 701h1v1h-1zM282 701h2v1h-2zM48 702h1v1h-1zM121 702h2v1h-2zM278 703h1v1h-1zM43 704h2v1h-2zM126 704h1v1h-1zM276 704h2v1h-2zM42 705h1v1h-1zM127 705h2v1h-2zM37 707h2v1h-2zM132 707h1v1h-1zM271 707h2v1h-2zM36 708h1v1h-1zM133 708h2v1h-2zM270 708h1v1h-1zM31 710h2v1h-2zM30 711h1v1h-1zM138 711h1v1h-1zM265 711h2v1h-2zM24 712h3v1h-3zM139 712h2v1h-2zM264 712h1v1h-1zM20 713h1v1h-1zM18 714h2v1h-2zM260 714h1v1h-1zM0 715h3v1h-3zM12 715h3v1h-3zM144 715h1v1h-1zM258 715h2v1h-2zM6 716h3v1h-3zM145 716h2v1h-2zM254 717h1v1h-1zM252 718h2v1h-2zM150 719h1v1h-1zM151 720h1v1h-1zM248 720h1v1h-1zM152 721h1v1h-1zM246 721h2v1h-2zM156 723h1v1h-1zM242 723h1v1h-1zM157 724h1v1h-1zM240 724h2v1h-2zM158 725h1v1h-1zM236 726h1v1h-1zM162 727h2v1h-2zM234 727h2v1h-2zM164 728h1v1h-1zM230 728h1v1h-1zM228 729h2v1h-2zM168 730h3v1h-3zM174 731h1v1h-1zM222 731h3v1h-3zM175 732h2v1h-2zM218 732h1v1h-1zM180 733h3v1h-3zM212 733h1v1h-1zM216 733h2v1h-2zM186 734h3v1h-3zM206 734h1v1h-1zM210 734h2v1h-2zM192 735h3v1h-3zM198 735h3v1h-3zM204 735h2v1h-2z" fill="#ff0000"/>
</g>
<path d="M1397 645h6v1h-6zM1390 646h13v1h-13zM1382 647h21v1h-21zM1374 648h23v1h-23zM1367 649h23v1h-23zM1359 650h23v1h-23zM1352 651h22v1h-22zM1344 652h23v1h-23zM1336 653h23v1h-23zM1329 654h23v1h-23zM1321 655h23v1h-23zM1314 656h22v1h-22zM1306 657h23v1h-23zM1298 658h23v1h-23zM1291 659h23v1h-23zM1283 660h23v1h-23zM1276 661h22v1h-22zM1268 662h23v1h-23zM1260 663h23v1h-23zM1257 664h19v1h-19zM1256 665h12v1h-12zM1257 666h3v1h-3z" fill="#ff0000"/>
<polygon points="1400.0,641.8 1412.3,645.6 1401.6,652.2" fill="#ff0000" shape-rendering="crispEdges"/>
<g clip-path="url(#cRsi)">
<line x1="0" y1="785.5" x2="1652" y2="785.5" stroke="#c0c0c0" stroke-width="1" stroke-dasharray="3,3" shape-rendering="crispEdges"/>
<line x1="0" y1="836.5" x2="1652" y2="836.5" stroke="#c0c0c0" stroke-width="1" stroke-dasharray="3,3" shape-rendering="crispEdges"/>
<line x1="0" y1="897.5" x2="1652" y2="897.5" stroke="#c0c0c0" stroke-width="1" stroke-dasharray="3,3" shape-rendering="crispEdges"/>
<path d="M689 770h1v1h-1zM687 771h2v1h-2zM690 771h2v1h-2zM685 772h2v1h-2zM692 772h1v1h-1zM684 773h1v1h-1zM693 773h2v1h-2zM682 774h2v1h-2zM695 774h2v1h-2zM677 775h5v1h-5zM697 775h1v1h-1zM671 776h6v1h-6zM698 776h1v1h-1zM667 777h4v1h-4zM699 777h1v1h-1zM665 778h2v1h-2zM700 778h1v1h-1zM664 779h1v1h-1zM701 779h1v1h-1zM663 780h1v1h-1zM701 780h1v1h-1zM663 781h1v1h-1zM702 781h1v1h-1zM662 782h1v1h-1zM703 782h1v1h-1zM520 783h2v1h-2zM661 783h1v1h-1zM704 783h1v1h-1zM517 784h3v1h-3zM521 784h1v1h-1zM660 784h1v1h-1zM705 784h1v1h-1zM515 785h2v1h-2zM522 785h1v1h-1zM659 785h1v1h-1zM705 785h1v1h-1zM512 786h3v1h-3zM522 786h1v1h-1zM659 786h1v1h-1zM706 786h1v1h-1zM495 787h4v1h-4zM509 787h3v1h-3zM522 787h1v1h-1zM658 787h1v1h-1zM706 787h1v1h-1zM849 787h1v1h-1zM491 788h4v1h-4zM499 788h4v1h-4zM507 788h2v1h-2zM522 788h1v1h-1zM657 788h1v1h-1zM706 788h1v1h-1zM848 788h1v1h-1zM850 788h1v1h-1zM489 789h2v1h-2zM503 789h4v1h-4zM523 789h1v1h-1zM656 789h1v1h-1zM707 789h1v1h-1zM847 789h1v1h-1zM851 789h2v1h-2zM488 790h1v1h-1zM523 790h1v1h-1zM655 790h1v1h-1zM707 790h1v1h-1zM781 790h5v1h-5zM846 790h1v1h-1zM853 790h1v1h-1zM487 791h1v1h-1zM523 791h1v1h-1zM654 791h1v1h-1zM707 791h1v1h-1zM776 791h5v1h-5zM785 791h1v1h-1zM845 791h1v1h-1zM854 791h1v1h-1zM486 792h1v1h-1zM524 792h1v1h-1zM653 792h1v1h-1zM708 792h1v1h-1zM773 792h3v1h-3zM786 792h1v1h-1zM844 792h1v1h-1zM855 792h2v1h-2zM1337 792h1v1h-1zM485 793h1v1h-1zM524 793h1v1h-1zM652 793h1v1h-1zM708 793h1v1h-1zM771 793h2v1h-2zM786 793h1v1h-1zM843 793h1v1h-1zM857 793h1v1h-1zM1336 793h1v1h-1zM1338 793h1v1h-1zM485 794h1v1h-1zM524 794h1v1h-1zM651 794h1v1h-1zM708 794h1v1h-1zM768 794h3v1h-3zM786 794h1v1h-1zM842 794h1v1h-1zM857 794h1v1h-1zM1335 794h1v1h-1zM1339 794h2v1h-2zM484 795h1v1h-1zM525 795h1v1h-1zM650 795h1v1h-1zM709 795h1v1h-1zM766 795h2v1h-2zM787 795h1v1h-1zM841 795h1v1h-1zM858 795h1v1h-1zM1334 795h1v1h-1zM1341 795h1v1h-1zM483 796h1v1h-1zM525 796h1v1h-1zM581 796h5v1h-5zM647 796h3v1h-3zM709 796h1v1h-1zM764 796h2v1h-2zM787 796h1v1h-1zM840 796h1v1h-1zM858 796h1v1h-1zM1333 796h1v1h-1zM1342 796h1v1h-1zM482 797h1v1h-1zM525 797h1v1h-1zM577 797h4v1h-4zM586 797h2v1h-2zM643 797h4v1h-4zM709 797h1v1h-1zM762 797h2v1h-2zM787 797h1v1h-1zM840 797h1v1h-1zM858 797h1v1h-1zM1332 797h1v1h-1zM1343 797h2v1h-2zM481 798h1v1h-1zM525 798h1v1h-1zM576 798h1v1h-1zM588 798h1v1h-1zM640 798h3v1h-3zM709 798h1v1h-1zM759 798h3v1h-3zM788 798h1v1h-1zM839 798h1v1h-1zM858 798h1v1h-1zM1331 798h1v1h-1zM1345 798h1v1h-1zM479 799h2v1h-2zM526 799h1v1h-1zM575 799h1v1h-1zM589 799h2v1h-2zM637 799h3v1h-3zM710 799h1v1h-1zM755 799h4v1h-4zM788 799h1v1h-1zM838 799h1v1h-1zM859 799h1v1h-1zM1330 799h1v1h-1zM1346 799h1v1h-1zM478 800h1v1h-1zM526 800h1v1h-1zM575 800h1v1h-1zM591 800h2v1h-2zM635 800h2v1h-2zM710 800h1v1h-1zM753 800h2v1h-2zM788 800h1v1h-1zM837 800h1v1h-1zM859 800h1v1h-1zM1329 800h1v1h-1zM1347 800h1v1h-1zM477 801h1v1h-1zM526 801h1v1h-1zM574 801h1v1h-1zM593 801h2v1h-2zM625 801h10v1h-10zM710 801h1v1h-1zM751 801h2v1h-2zM789 801h1v1h-1zM837 801h1v1h-1zM859 801h1v1h-1zM1328 801h1v1h-1zM1347 801h1v1h-1zM475 802h2v1h-2zM527 802h1v1h-1zM573 802h1v1h-1zM595 802h2v1h-2zM624 802h1v1h-1zM711 802h1v1h-1zM750 802h1v1h-1zM789 802h1v1h-1zM836 802h1v1h-1zM860 802h1v1h-1zM1328 802h1v1h-1zM1348 802h1v1h-1zM409 803h1v1h-1zM474 803h1v1h-1zM527 803h1v1h-1zM572 803h1v1h-1zM597 803h3v1h-3zM624 803h1v1h-1zM711 803h1v1h-1zM749 803h1v1h-1zM790 803h1v1h-1zM835 803h1v1h-1zM860 803h1v1h-1zM1327 803h1v1h-1zM1349 803h1v1h-1zM408 804h2v1h-2zM473 804h1v1h-1zM527 804h1v1h-1zM557 804h6v1h-6zM571 804h1v1h-1zM600 804h3v1h-3zM623 804h1v1h-1zM711 804h1v1h-1zM725 804h6v1h-6zM747 804h2v1h-2zM790 804h1v1h-1zM834 804h1v1h-1zM860 804h1v1h-1zM1326 804h1v1h-1zM1350 804h1v1h-1zM407 805h1v1h-1zM410 805h1v1h-1zM472 805h1v1h-1zM528 805h1v1h-1zM553 805h4v1h-4zM563 805h2v1h-2zM571 805h1v1h-1zM603 805h4v1h-4zM622 805h1v1h-1zM712 805h1v1h-1zM720 805h5v1h-5zM731 805h4v1h-4zM746 805h1v1h-1zM790 805h1v1h-1zM834 805h1v1h-1zM860 805h1v1h-1zM1325 805h1v1h-1zM1351 805h1v1h-1zM385 806h1v1h-1zM406 806h1v1h-1zM410 806h1v1h-1zM471 806h1v1h-1zM528 806h1v1h-1zM551 806h2v1h-2zM565 806h3v1h-3zM570 806h1v1h-1zM607 806h3v1h-3zM621 806h1v1h-1zM712 806h1v1h-1zM718 806h2v1h-2zM735 806h11v1h-11zM791 806h1v1h-1zM823 806h11v1h-11zM861 806h1v1h-1zM1325 806h1v1h-1zM1351 806h1v1h-1zM1359 806h4v1h-4zM383 807h2v1h-2zM386 807h1v1h-1zM405 807h1v1h-1zM411 807h1v1h-1zM470 807h1v1h-1zM528 807h1v1h-1zM536 807h2v1h-2zM550 807h1v1h-1zM568 807h2v1h-2zM610 807h1v1h-1zM621 807h1v1h-1zM712 807h1v1h-1zM716 807h2v1h-2zM791 807h1v1h-1zM819 807h4v1h-4zM861 807h1v1h-1zM1324 807h1v1h-1zM1352 807h1v1h-1zM1355 807h4v1h-4zM1363 807h2v1h-2zM381 808h2v1h-2zM387 808h1v1h-1zM405 808h1v1h-1zM411 808h1v1h-1zM469 808h1v1h-1zM528 808h1v1h-1zM533 808h3v1h-3zM538 808h2v1h-2zM549 808h1v1h-1zM611 808h2v1h-2zM620 808h1v1h-1zM713 808h3v1h-3zM791 808h1v1h-1zM817 808h2v1h-2zM861 808h1v1h-1zM1323 808h1v1h-1zM1353 808h2v1h-2zM1365 808h3v1h-3zM1373 808h13v1h-13zM380 809h1v1h-1zM387 809h1v1h-1zM404 809h1v1h-1zM412 809h1v1h-1zM469 809h1v1h-1zM529 809h1v1h-1zM531 809h2v1h-2zM540 809h2v1h-2zM547 809h2v1h-2zM613 809h1v1h-1zM619 809h1v1h-1zM713 809h1v1h-1zM792 809h1v1h-1zM815 809h2v1h-2zM862 809h1v1h-1zM1192 809h2v1h-2zM1322 809h1v1h-1zM1368 809h5v1h-5zM1386 809h1v1h-1zM378 810h2v1h-2zM388 810h1v1h-1zM403 810h1v1h-1zM412 810h1v1h-1zM433 810h2v1h-2zM468 810h1v1h-1zM529 810h2v1h-2zM542 810h2v1h-2zM546 810h1v1h-1zM614 810h1v1h-1zM618 810h1v1h-1zM792 810h1v1h-1zM813 810h2v1h-2zM862 810h1v1h-1zM1190 810h2v1h-2zM1194 810h1v1h-1zM1322 810h1v1h-1zM1387 810h1v1h-1zM376 811h2v1h-2zM389 811h1v1h-1zM402 811h1v1h-1zM412 811h1v1h-1zM432 811h1v1h-1zM435 811h2v1h-2zM467 811h1v1h-1zM544 811h2v1h-2zM615 811h2v1h-2zM618 811h1v1h-1zM792 811h1v1h-1zM812 811h1v1h-1zM862 811h1v1h-1zM1188 811h2v1h-2zM1195 811h1v1h-1zM1321 811h1v1h-1zM1388 811h1v1h-1zM374 812h2v1h-2zM390 812h1v1h-1zM400 812h2v1h-2zM413 812h1v1h-1zM431 812h1v1h-1zM437 812h3v1h-3zM466 812h1v1h-1zM617 812h1v1h-1zM793 812h1v1h-1zM810 812h2v1h-2zM862 812h1v1h-1zM1186 812h2v1h-2zM1196 812h1v1h-1zM1240 812h2v1h-2zM1320 812h1v1h-1zM1389 812h2v1h-2zM372 813h2v1h-2zM391 813h1v1h-1zM398 813h2v1h-2zM413 813h1v1h-1zM431 813h1v1h-1zM440 813h5v1h-5zM461 813h5v1h-5zM793 813h17v1h-17zM863 813h1v1h-1zM873 813h1v1h-1zM1183 813h3v1h-3zM1197 813h1v1h-1zM1237 813h3v1h-3zM1241 813h1v1h-1zM1320 813h1v1h-1zM1391 813h1v1h-1zM370 814h2v1h-2zM391 814h1v1h-1zM396 814h2v1h-2zM414 814h1v1h-1zM430 814h1v1h-1zM445 814h16v1h-16zM863 814h1v1h-1zM872 814h1v1h-1zM874 814h2v1h-2zM1153 814h2v1h-2zM1179 814h4v1h-4zM1197 814h1v1h-1zM1235 814h2v1h-2zM1242 814h1v1h-1zM1319 814h1v1h-1zM1392 814h1v1h-1zM368 815h2v1h-2zM392 815h1v1h-1zM394 815h2v1h-2zM414 815h1v1h-1zM429 815h1v1h-1zM863 815h1v1h-1zM871 815h1v1h-1zM876 815h2v1h-2zM1151 815h2v1h-2zM1155 815h2v1h-2zM1175 815h4v1h-4zM1198 815h1v1h-1zM1233 815h2v1h-2zM1242 815h1v1h-1zM1318 815h1v1h-1zM1393 815h1v1h-1zM365 816h3v1h-3zM393 816h1v1h-1zM414 816h1v1h-1zM428 816h1v1h-1zM864 816h1v1h-1zM870 816h1v1h-1zM878 816h2v1h-2zM905 816h1v1h-1zM1150 816h1v1h-1zM1157 816h3v1h-3zM1171 816h4v1h-4zM1199 816h1v1h-1zM1231 816h2v1h-2zM1243 816h1v1h-1zM1317 816h1v1h-1zM1394 816h1v1h-1zM329 817h1v1h-1zM353 817h4v1h-4zM363 817h2v1h-2zM415 817h1v1h-1zM427 817h1v1h-1zM864 817h1v1h-1zM869 817h1v1h-1zM880 817h2v1h-2zM903 817h3v1h-3zM1149 817h1v1h-1zM1160 817h11v1h-11zM1200 817h1v1h-1zM1230 817h1v1h-1zM1243 817h1v1h-1zM1264 817h2v1h-2zM1317 817h1v1h-1zM1395 817h1v1h-1zM329 818h3v1h-3zM352 818h1v1h-1zM357 818h6v1h-6zM415 818h1v1h-1zM427 818h1v1h-1zM864 818h1v1h-1zM868 818h1v1h-1zM882 818h1v1h-1zM901 818h2v1h-2zM906 818h1v1h-1zM1147 818h2v1h-2zM1201 818h9v1h-9zM1229 818h1v1h-1zM1244 818h1v1h-1zM1261 818h3v1h-3zM1266 818h1v1h-1zM1316 818h1v1h-1zM1396 818h1v1h-1zM328 819h1v1h-1zM332 819h2v1h-2zM351 819h1v1h-1zM416 819h1v1h-1zM426 819h1v1h-1zM864 819h1v1h-1zM867 819h1v1h-1zM883 819h1v1h-1zM900 819h1v1h-1zM906 819h1v1h-1zM1146 819h1v1h-1zM1210 819h2v1h-2zM1227 819h2v1h-2zM1244 819h1v1h-1zM1259 819h2v1h-2zM1267 819h2v1h-2zM1315 819h1v1h-1zM1397 819h1v1h-1zM328 820h1v1h-1zM334 820h2v1h-2zM350 820h1v1h-1zM416 820h1v1h-1zM423 820h3v1h-3zM865 820h2v1h-2zM883 820h1v1h-1zM898 820h2v1h-2zM907 820h1v1h-1zM1141 820h5v1h-5zM1212 820h1v1h-1zM1226 820h1v1h-1zM1245 820h1v1h-1zM1257 820h2v1h-2zM1269 820h1v1h-1zM1304 820h3v1h-3zM1314 820h1v1h-1zM1397 820h1v1h-1zM327 821h1v1h-1zM336 821h2v1h-2zM349 821h1v1h-1zM417 821h1v1h-1zM419 821h4v1h-4zM865 821h1v1h-1zM884 821h1v1h-1zM897 821h1v1h-1zM907 821h1v1h-1zM1137 821h4v1h-4zM1213 821h2v1h-2zM1223 821h3v1h-3zM1245 821h1v1h-1zM1256 821h1v1h-1zM1270 821h1v1h-1zM1302 821h2v1h-2zM1307 821h4v1h-4zM1314 821h1v1h-1zM1398 821h1v1h-1zM327 822h1v1h-1zM338 822h2v1h-2zM348 822h1v1h-1zM417 822h2v1h-2zM885 822h1v1h-1zM895 822h2v1h-2zM908 822h1v1h-1zM1137 822h1v1h-1zM1215 822h2v1h-2zM1219 822h4v1h-4zM1246 822h1v1h-1zM1255 822h1v1h-1zM1271 822h2v1h-2zM1300 822h2v1h-2zM1311 822h3v1h-3zM1399 822h1v1h-1zM31 823h3v1h-3zM263 823h6v1h-6zM326 823h1v1h-1zM340 823h2v1h-2zM347 823h1v1h-1zM886 823h1v1h-1zM894 823h1v1h-1zM908 823h1v1h-1zM1136 823h1v1h-1zM1217 823h2v1h-2zM1246 823h1v1h-1zM1254 823h1v1h-1zM1273 823h1v1h-1zM1298 823h2v1h-2zM1400 823h1v1h-1zM27 824h4v1h-4zM34 824h2v1h-2zM259 824h4v1h-4zM269 824h5v1h-5zM326 824h1v1h-1zM342 824h2v1h-2zM346 824h1v1h-1zM887 824h1v1h-1zM893 824h1v1h-1zM908 824h1v1h-1zM1136 824h1v1h-1zM1247 824h1v1h-1zM1253 824h1v1h-1zM1274 824h1v1h-1zM1297 824h1v1h-1zM1401 824h2v1h-2zM23 825h4v1h-4zM36 825h2v1h-2zM256 825h3v1h-3zM274 825h1v1h-1zM325 825h1v1h-1zM344 825h2v1h-2zM887 825h1v1h-1zM891 825h2v1h-2zM909 825h1v1h-1zM1135 825h1v1h-1zM1247 825h1v1h-1zM1253 825h1v1h-1zM1275 825h1v1h-1zM1295 825h2v1h-2zM1403 825h4v1h-4zM19 826h4v1h-4zM38 826h2v1h-2zM253 826h3v1h-3zM275 826h1v1h-1zM325 826h1v1h-1zM888 826h1v1h-1zM890 826h1v1h-1zM909 826h1v1h-1zM1033 826h2v1h-2zM1135 826h1v1h-1zM1248 826h1v1h-1zM1252 826h1v1h-1zM1276 826h1v1h-1zM1293 826h2v1h-2zM1407 826h3v1h-3zM16 827h3v1h-3zM40 827h2v1h-2zM251 827h2v1h-2zM275 827h1v1h-1zM324 827h1v1h-1zM889 827h1v1h-1zM910 827h1v1h-1zM1032 827h1v1h-1zM1035 827h2v1h-2zM1085 827h5v1h-5zM1117 827h5v1h-5zM1134 827h1v1h-1zM1248 827h1v1h-1zM1251 827h1v1h-1zM1277 827h1v1h-1zM1292 827h1v1h-1zM13 828h3v1h-3zM42 828h1v1h-1zM249 828h2v1h-2zM276 828h1v1h-1zM324 828h1v1h-1zM910 828h1v1h-1zM1032 828h1v1h-1zM1037 828h3v1h-3zM1081 828h4v1h-4zM1090 828h2v1h-2zM1109 828h8v1h-8zM1122 828h1v1h-1zM1134 828h1v1h-1zM1249 828h2v1h-2zM1278 828h1v1h-1zM1290 828h2v1h-2zM11 829h2v1h-2zM42 829h1v1h-1zM248 829h1v1h-1zM277 829h1v1h-1zM323 829h1v1h-1zM910 829h1v1h-1zM1031 829h1v1h-1zM1040 829h3v1h-3zM1079 829h2v1h-2zM1092 829h1v1h-1zM1104 829h5v1h-5zM1123 829h1v1h-1zM1133 829h1v1h-1zM1249 829h1v1h-1zM1279 829h1v1h-1zM1287 829h3v1h-3zM9 830h2v1h-2zM43 830h1v1h-1zM247 830h1v1h-1zM278 830h1v1h-1zM323 830h1v1h-1zM911 830h1v1h-1zM1031 830h1v1h-1zM1043 830h4v1h-4zM1077 830h2v1h-2zM1093 830h2v1h-2zM1101 830h3v1h-3zM1123 830h1v1h-1zM1133 830h1v1h-1zM1280 830h1v1h-1zM1283 830h4v1h-4zM8 831h1v1h-1zM44 831h1v1h-1zM245 831h2v1h-2zM279 831h1v1h-1zM322 831h1v1h-1zM911 831h1v1h-1zM1030 831h1v1h-1zM1047 831h6v1h-6zM1076 831h1v1h-1zM1095 831h2v1h-2zM1099 831h2v1h-2zM1124 831h1v1h-1zM1132 831h1v1h-1zM1281 831h2v1h-2zM8 832h1v1h-1zM44 832h1v1h-1zM244 832h1v1h-1zM279 832h1v1h-1zM322 832h1v1h-1zM912 832h1v1h-1zM928 832h2v1h-2zM1030 832h1v1h-1zM1053 832h8v1h-8zM1074 832h2v1h-2zM1097 832h2v1h-2zM1125 832h1v1h-1zM1132 832h1v1h-1zM7 833h1v1h-1zM45 833h1v1h-1zM243 833h1v1h-1zM280 833h1v1h-1zM320 833h2v1h-2zM912 833h1v1h-1zM925 833h3v1h-3zM929 833h1v1h-1zM1029 833h1v1h-1zM1061 833h13v1h-13zM1126 833h1v1h-1zM1131 833h1v1h-1zM7 834h1v1h-1zM46 834h1v1h-1zM233 834h4v1h-4zM242 834h1v1h-1zM281 834h1v1h-1zM317 834h3v1h-3zM913 834h1v1h-1zM923 834h2v1h-2zM930 834h1v1h-1zM1029 834h1v1h-1zM1127 834h1v1h-1zM1131 834h1v1h-1zM6 835h1v1h-1zM46 835h1v1h-1zM232 835h1v1h-1zM237 835h5v1h-5zM282 835h1v1h-1zM315 835h2v1h-2zM913 835h10v1h-10zM930 835h1v1h-1zM1028 835h1v1h-1zM1127 835h1v1h-1zM1130 835h1v1h-1zM6 836h1v1h-1zM47 836h1v1h-1zM232 836h1v1h-1zM283 836h1v1h-1zM313 836h2v1h-2zM931 836h1v1h-1zM1028 836h1v1h-1zM1128 836h1v1h-1zM1130 836h1v1h-1zM5 837h1v1h-1zM48 837h1v1h-1zM231 837h1v1h-1zM284 837h1v1h-1zM311 837h2v1h-2zM931 837h1v1h-1zM1027 837h1v1h-1zM1129 837h1v1h-1zM5 838h1v1h-1zM48 838h1v1h-1zM230 838h1v1h-1zM285 838h1v1h-1zM310 838h1v1h-1zM931 838h1v1h-1zM1027 838h1v1h-1zM4 839h1v1h-1zM49 839h1v1h-1zM230 839h1v1h-1zM285 839h1v1h-1zM309 839h1v1h-1zM932 839h1v1h-1zM983 839h3v1h-3zM1026 839h1v1h-1zM4 840h1v1h-1zM50 840h1v1h-1zM65 840h1v1h-1zM229 840h1v1h-1zM286 840h1v1h-1zM307 840h2v1h-2zM932 840h1v1h-1zM979 840h4v1h-4zM986 840h1v1h-1zM1026 840h1v1h-1zM3 841h1v1h-1zM51 841h1v1h-1zM63 841h2v1h-2zM66 841h1v1h-1zM228 841h1v1h-1zM287 841h1v1h-1zM306 841h1v1h-1zM932 841h1v1h-1zM959 841h3v1h-3zM976 841h3v1h-3zM987 841h1v1h-1zM1024 841h2v1h-2zM3 842h1v1h-1zM52 842h1v1h-1zM62 842h1v1h-1zM67 842h1v1h-1zM228 842h1v1h-1zM288 842h1v1h-1zM305 842h1v1h-1zM933 842h1v1h-1zM955 842h4v1h-4zM962 842h2v1h-2zM974 842h2v1h-2zM988 842h1v1h-1zM1021 842h3v1h-3zM2 843h1v1h-1zM53 843h2v1h-2zM61 843h1v1h-1zM68 843h1v1h-1zM227 843h1v1h-1zM289 843h1v1h-1zM303 843h2v1h-2zM933 843h1v1h-1zM952 843h3v1h-3zM964 843h2v1h-2zM972 843h2v1h-2zM989 843h1v1h-1zM1019 843h2v1h-2zM2 844h1v1h-1zM55 844h1v1h-1zM59 844h2v1h-2zM69 844h2v1h-2zM226 844h1v1h-1zM290 844h2v1h-2zM301 844h2v1h-2zM934 844h1v1h-1zM949 844h3v1h-3zM966 844h2v1h-2zM970 844h2v1h-2zM990 844h1v1h-1zM1016 844h3v1h-3zM1 845h1v1h-1zM56 845h1v1h-1zM58 845h1v1h-1zM71 845h1v1h-1zM226 845h1v1h-1zM292 845h2v1h-2zM300 845h1v1h-1zM934 845h1v1h-1zM947 845h2v1h-2zM968 845h2v1h-2zM991 845h1v1h-1zM1014 845h2v1h-2zM57 846h1v1h-1zM72 846h1v1h-1zM223 846h3v1h-3zM294 846h2v1h-2zM298 846h2v1h-2zM934 846h1v1h-1zM945 846h2v1h-2zM992 846h1v1h-1zM1012 846h2v1h-2zM73 847h9v1h-9zM219 847h4v1h-4zM296 847h2v1h-2zM935 847h1v1h-1zM944 847h1v1h-1zM993 847h2v1h-2zM1010 847h2v1h-2zM82 848h1v1h-1zM217 848h2v1h-2zM935 848h1v1h-1zM943 848h1v1h-1zM995 848h4v1h-4zM1005 848h5v1h-5zM83 849h1v1h-1zM216 849h1v1h-1zM935 849h1v1h-1zM941 849h2v1h-2zM999 849h6v1h-6zM84 850h1v1h-1zM215 850h1v1h-1zM936 850h1v1h-1zM940 850h1v1h-1zM85 851h1v1h-1zM214 851h1v1h-1zM936 851h1v1h-1zM939 851h1v1h-1zM85 852h1v1h-1zM213 852h1v1h-1zM937 852h2v1h-2zM86 853h1v1h-1zM212 853h1v1h-1zM937 853h1v1h-1zM87 854h1v1h-1zM200 854h3v1h-3zM211 854h1v1h-1zM88 855h1v1h-1zM198 855h2v1h-2zM203 855h4v1h-4zM210 855h1v1h-1zM89 856h1v1h-1zM185 856h2v1h-2zM196 856h2v1h-2zM207 856h3v1h-3zM89 857h1v1h-1zM184 857h1v1h-1zM187 857h4v1h-4zM194 857h2v1h-2zM90 858h1v1h-1zM184 858h1v1h-1zM191 858h3v1h-3zM90 859h1v1h-1zM183 859h1v1h-1zM91 860h1v1h-1zM183 860h1v1h-1zM91 861h1v1h-1zM182 861h1v1h-1zM92 862h1v1h-1zM182 862h1v1h-1zM92 863h1v1h-1zM181 863h1v1h-1zM92 864h1v1h-1zM181 864h1v1h-1zM93 865h1v1h-1zM180 865h1v1h-1zM93 866h1v1h-1zM169 866h1v1h-1zM180 866h1v1h-1zM94 867h1v1h-1zM168 867h1v1h-1zM170 867h2v1h-2zM179 867h1v1h-1zM94 868h1v1h-1zM167 868h1v1h-1zM172 868h1v1h-1zM179 868h1v1h-1zM94 869h1v1h-1zM165 869h2v1h-2zM173 869h2v1h-2zM178 869h1v1h-1zM95 870h1v1h-1zM127 870h4v1h-4zM164 870h1v1h-1zM175 870h2v1h-2zM178 870h1v1h-1zM95 871h1v1h-1zM112 871h5v1h-5zM123 871h4v1h-4zM131 871h2v1h-2zM163 871h1v1h-1zM177 871h1v1h-1zM96 872h1v1h-1zM110 872h2v1h-2zM117 872h6v1h-6zM133 872h3v1h-3zM162 872h1v1h-1zM96 873h1v1h-1zM108 873h2v1h-2zM136 873h10v1h-10zM161 873h1v1h-1zM97 874h1v1h-1zM106 874h2v1h-2zM146 874h2v1h-2zM159 874h2v1h-2zM97 875h9v1h-9zM148 875h1v1h-1zM157 875h2v1h-2zM149 876h2v1h-2zM156 876h1v1h-1zM151 877h2v1h-2zM154 877h2v1h-2zM153 878h1v1h-1z" fill="#1e90ff"/>
</g>
<path d="M1337 801h3v1h-3zM1336 802h8v1h-8zM1337 803h10v1h-10zM1340 804h11v1h-11zM1344 805h11v1h-11zM1347 806h11v1h-11zM1351 807h11v1h-11zM1355 808h10v1h-10zM1358 809h11v1h-11zM1362 810h10v1h-10zM1365 811h11v1h-11zM1369 812h11v1h-11zM1372 813h11v1h-11zM1376 814h11v1h-11zM1380 815h11v1h-11zM1383 816h11v1h-11zM1387 817h11v1h-11zM1391 818h10v1h-10zM1394 819h11v1h-11zM1398 820h10v1h-10zM1401 821h8v1h-8zM1405 822h4v1h-4zM1408 823h1v1h-1z" fill="#ff0000"/>
<polygon points="1409.6,816.8 1419.2,824.6 1406.8,826.8" fill="#ff0000" shape-rendering="crispEdges"/>
<g shape-rendering="crispEdges" fill="#000">
<rect x="0" y="22" width="1653" height="1"/>
<rect x="1652" y="22" width="1" height="902"/>
<rect x="0" y="571" width="1652" height="1"/>
<rect x="0" y="573" width="1652" height="1"/>
<rect x="0" y="747" width="1652" height="1"/>
<rect x="0" y="749" width="1652" height="1"/>
<rect x="0" y="923" width="1653" height="1"/>
<rect x="1653" y="40" width="2" height="1"/>
<rect x="1653" y="73" width="2" height="1"/>
<rect x="1653" y="106" width="2" height="1"/>
<rect x="1653" y="139" width="2" height="1"/>
<rect x="1653" y="172" width="2" height="1"/>
<rect x="1653" y="205" width="2" height="1"/>
<rect x="1653" y="238" width="2" height="1"/>
<rect x="1653" y="271" width="2" height="1"/>
<rect x="1653" y="304" width="2" height="1"/>
<rect x="1653" y="337" width="2" height="1"/>
<rect x="1653" y="370" width="2" height="1"/>
<rect x="1653" y="403" width="2" height="1"/>
<rect x="1653" y="436" width="2" height="1"/>
<rect x="1653" y="469" width="2" height="1"/>
<rect x="1653" y="502" width="2" height="1"/>
<rect x="1653" y="535" width="2" height="1"/>
<rect x="1653" y="568" width="2" height="1"/>
<rect x="1653" y="575" width="1" height="1"/>
<rect x="1653" y="681" width="2" height="1"/>
<rect x="1653" y="745" width="1" height="1"/>
<rect x="1653" y="751" width="1" height="1"/>
<rect x="1653" y="785" width="2" height="1"/>
<rect x="1653" y="836" width="2" height="1"/>
<rect x="1653" y="897" width="2" height="1"/>
<rect x="1653" y="921" width="1" height="1"/>
<rect x="57" y="924" width="1" height="3"/>
<rect x="121" y="924" width="1" height="3"/>
<rect x="185" y="924" width="1" height="3"/>
<rect x="249" y="924" width="1" height="3"/>
<rect x="313" y="924" width="1" height="3"/>
<rect x="377" y="924" width="1" height="3"/>
<rect x="441" y="924" width="1" height="3"/>
<rect x="505" y="924" width="1" height="3"/>
<rect x="569" y="924" width="1" height="3"/>
<rect x="633" y="924" width="1" height="3"/>
<rect x="697" y="924" width="1" height="3"/>
<rect x="761" y="924" width="1" height="3"/>
<rect x="825" y="924" width="1" height="3"/>
<rect x="889" y="924" width="1" height="3"/>
<rect x="953" y="924" width="1" height="3"/>
<rect x="1017" y="924" width="1" height="3"/>
<rect x="1081" y="924" width="1" height="3"/>
<rect x="1145" y="924" width="1" height="3"/>
<rect x="1209" y="924" width="1" height="3"/>
<rect x="1273" y="924" width="1" height="3"/>
<rect x="1337" y="924" width="1" height="3"/>
<rect x="1401" y="924" width="1" height="3"/>
</g>
<polygon points="1414,23 1423,23 1418.5,27.5" fill="#b0b0b0"/>
<text x="1658.6" y="44" font-size="9.5" fill="#000" stroke="#000" stroke-width="0.2" textLength="32.5" lengthAdjust="spacingAndGlyphs">164.870</text>
<text x="1658.6" y="77" font-size="9.5" fill="#000" stroke="#000" stroke-width="0.2" textLength="32.5" lengthAdjust="spacingAndGlyphs">163.970</text>
<text x="1658.6" y="110" font-size="9.5" fill="#000" stroke="#000" stroke-width="0.2" textLength="32.5" lengthAdjust="spacingAndGlyphs">163.095</text>
<text x="1658.6" y="143" font-size="9.5" fill="#000" stroke="#000" stroke-width="0.2" textLength="32.5" lengthAdjust="spacingAndGlyphs">162.220</text>
<text x="1658.6" y="176" font-size="9.5" fill="#000" stroke="#000" stroke-width="0.2" textLength="32.5" lengthAdjust="spacingAndGlyphs">161.320</text>
<text x="1658.6" y="209" font-size="9.5" fill="#000" stroke="#000" stroke-width="0.2" textLength="32.5" lengthAdjust="spacingAndGlyphs">160.445</text>
<text x="1658.6" y="242" font-size="9.5" fill="#000" stroke="#000" stroke-width="0.2" textLength="32.5" lengthAdjust="spacingAndGlyphs">159.545</text>
<text x="1658.6" y="275" font-size="9.5" fill="#000" stroke="#000" stroke-width="0.2" textLength="32.5" lengthAdjust="spacingAndGlyphs">158.670</text>
<text x="1658.6" y="308" font-size="9.5" fill="#000" stroke="#000" stroke-width="0.2" textLength="32.5" lengthAdjust="spacingAndGlyphs">157.770</text>
<text x="1658.6" y="341" font-size="9.5" fill="#000" stroke="#000" stroke-width="0.2" textLength="32.5" lengthAdjust="spacingAndGlyphs">156.895</text>
<text x="1658.6" y="374" font-size="9.5" fill="#000" stroke="#000" stroke-width="0.2" textLength="32.5" lengthAdjust="spacingAndGlyphs">155.995</text>
<text x="1658.6" y="407" font-size="9.5" fill="#000" stroke="#000" stroke-width="0.2" textLength="32.5" lengthAdjust="spacingAndGlyphs">155.120</text>
<text x="1658.6" y="440" font-size="9.5" fill="#000" stroke="#000" stroke-width="0.2" textLength="32.5" lengthAdjust="spacingAndGlyphs">154.220</text>
<text x="1658.6" y="473" font-size="9.5" fill="#000" stroke="#000" stroke-width="0.2" textLength="32.5" lengthAdjust="spacingAndGlyphs">153.345</text>
<text x="1658.6" y="506" font-size="9.5" fill="#000" stroke="#000" stroke-width="0.2" textLength="32.5" lengthAdjust="spacingAndGlyphs">152.470</text>
<text x="1658.6" y="539" font-size="9.5" fill="#000" stroke="#000" stroke-width="0.2" textLength="32.5" lengthAdjust="spacingAndGlyphs">151.570</text>
<text x="1658.6" y="572" font-size="9.5" fill="#000" stroke="#000" stroke-width="0.2" textLength="32.5" lengthAdjust="spacingAndGlyphs">150.695</text>
<text x="1656.4" y="584.1" font-size="9.5" fill="#000" stroke="#000" stroke-width="0.2" textLength="27.5" lengthAdjust="spacingAndGlyphs">1.4912</text>
<text x="1656.4" y="685.1" font-size="9.5" fill="#000" stroke="#000" stroke-width="0.2" textLength="17.5" lengthAdjust="spacingAndGlyphs">0.00</text>
<text x="1656.4" y="744.1" font-size="9.5" fill="#000" stroke="#000" stroke-width="0.2" textLength="30.5" lengthAdjust="spacingAndGlyphs">-0.9167</text>
<text x="1656.4" y="760.1" font-size="9.5" fill="#000" stroke="#000" stroke-width="0.2" textLength="14.5" lengthAdjust="spacingAndGlyphs">100</text>
<text x="1655" y="789.1" font-size="9.5" fill="#000" stroke="#000" stroke-width="0.2" textLength="10" lengthAdjust="spacingAndGlyphs">80</text>
<text x="1655" y="840.1" font-size="9.5" fill="#000" stroke="#000" stroke-width="0.2" textLength="10" lengthAdjust="spacingAndGlyphs">50</text>
<text x="1655" y="901.1" font-size="9.5" fill="#000" stroke="#000" stroke-width="0.2" textLength="10" lengthAdjust="spacingAndGlyphs">15</text>
<text x="1656.4" y="920.1" font-size="9.5" fill="#000" stroke="#000" stroke-width="0.2" textLength="4.8" lengthAdjust="spacingAndGlyphs">0</text>
<rect x="1654" y="47" width="41" height="11" fill="#ff0000" shape-rendering="crispEdges"/>
<text x="1658.6" y="56" font-size="9.5" fill="#fff" stroke="#fff" stroke-width="0.2" textLength="32.5" lengthAdjust="spacingAndGlyphs">164.506</text>
<rect x="1654" y="69" width="41" height="11" fill="#ff0000" shape-rendering="crispEdges"/>
<text x="1658.6" y="78" font-size="9.5" fill="#fff" stroke="#fff" stroke-width="0.2" textLength="32.5" lengthAdjust="spacingAndGlyphs">163.916</text>
<rect x="1654" y="110" width="41" height="11" fill="#32cd32" shape-rendering="crispEdges"/>
<rect x="1654" y="109" width="41" height="1" fill="#000" shape-rendering="crispEdges"/>
<text x="1658.6" y="119" font-size="9.5" fill="#fff" stroke="#fff" stroke-width="0.2" textLength="32.5" lengthAdjust="spacingAndGlyphs">162.817</text>
<rect x="1654" y="137" width="41" height="11" fill="#0000ff" shape-rendering="crispEdges"/>
<text x="1658.6" y="146" font-size="9.5" fill="#fff" stroke="#fff" stroke-width="0.2" textLength="32.5" lengthAdjust="spacingAndGlyphs">162.093</text>
<rect x="1654" y="164" width="41" height="11" fill="#0000ff" shape-rendering="crispEdges"/>
<text x="1658.6" y="173" font-size="9.5" fill="#fff" stroke="#fff" stroke-width="0.2" textLength="32.5" lengthAdjust="spacingAndGlyphs">161.369</text>
<text x="-7.5" y="936" font-size="9.5" fill="#000" stroke="#000" stroke-width="0.2" textLength="47.4" lengthAdjust="spacingAndGlyphs">1 Mar 2022</text>
<text x="56.5" y="936" font-size="9.5" fill="#000" stroke="#000" stroke-width="0.2" textLength="50.0" lengthAdjust="spacingAndGlyphs">3 Mar 16:00</text>
<text x="120.5" y="936" font-size="9.5" fill="#000" stroke="#000" stroke-width="0.2" textLength="50.0" lengthAdjust="spacingAndGlyphs">7 Mar 00:00</text>
<text x="184.5" y="936" font-size="9.5" fill="#000" stroke="#000" stroke-width="0.2" textLength="50.0" lengthAdjust="spacingAndGlyphs">8 Mar 08:00</text>
<text x="248.5" y="936" font-size="9.5" fill="#000" stroke="#000" stroke-width="0.2" textLength="50.0" lengthAdjust="spacingAndGlyphs">9 Mar 16:00</text>
<text x="312.5" y="936" font-size="9.5" fill="#000" stroke="#000" stroke-width="0.2" textLength="55.2" lengthAdjust="spacingAndGlyphs">11 Mar 00:00</text>
<text x="376.5" y="936" font-size="9.5" fill="#000" stroke="#000" stroke-width="0.2" textLength="55.2" lengthAdjust="spacingAndGlyphs">14 Mar 08:00</text>
<text x="440.5" y="936" font-size="9.5" fill="#000" stroke="#000" stroke-width="0.2" textLength="55.2" lengthAdjust="spacingAndGlyphs">15 Mar 16:00</text>
<text x="504.5" y="936" font-size="9.5" fill="#000" stroke="#000" stroke-width="0.2" textLength="55.2" lengthAdjust="spacingAndGlyphs">17 Mar 00:00</text>
<text x="568.5" y="936" font-size="9.5" fill="#000" stroke="#000" stroke-width="0.2" textLength="55.2" lengthAdjust="spacingAndGlyphs">18 Mar 08:00</text>
<text x="632.5" y="936" font-size="9.5" fill="#000" stroke="#000" stroke-width="0.2" textLength="55.2" lengthAdjust="spacingAndGlyphs">21 Mar 16:00</text>
<text x="696.5" y="936" font-size="9.5" fill="#000" stroke="#000" stroke-width="0.2" textLength="55.2" lengthAdjust="spacingAndGlyphs">23 Mar 00:00</text>
<text x="760.5" y="936" font-size="9.5" fill="#000" stroke="#000" stroke-width="0.2" textLength="55.2" lengthAdjust="spacingAndGlyphs">24 Mar 08:00</text>
<text x="824.5" y="936" font-size="9.5" fill="#000" stroke="#000" stroke-width="0.2" textLength="55.2" lengthAdjust="spacingAndGlyphs">25 Mar 16:00</text>
<text x="888.5" y="936" font-size="9.5" fill="#000" stroke="#000" stroke-width="0.2" textLength="55.2" lengthAdjust="spacingAndGlyphs">29 Mar 00:00</text>
<text x="952.5" y="936" font-size="9.5" fill="#000" stroke="#000" stroke-width="0.2" textLength="55.2" lengthAdjust="spacingAndGlyphs">30 Mar 08:00</text>
<text x="1016.5" y="936" font-size="9.5" fill="#000" stroke="#000" stroke-width="0.2" textLength="55.2" lengthAdjust="spacingAndGlyphs">31 Mar 16:00</text>
<text x="1080.5" y="936" font-size="9.5" fill="#000" stroke="#000" stroke-width="0.2" textLength="48.4" lengthAdjust="spacingAndGlyphs">4 Apr 00:00</text>
<text x="1144.5" y="936" font-size="9.5" fill="#000" stroke="#000" stroke-width="0.2" textLength="48.4" lengthAdjust="spacingAndGlyphs">5 Apr 08:00</text>
<text x="1208.5" y="936" font-size="9.5" fill="#000" stroke="#000" stroke-width="0.2" textLength="48.4" lengthAdjust="spacingAndGlyphs">6 Apr 16:00</text>
<text x="1272.5" y="936" font-size="9.5" fill="#000" stroke="#000" stroke-width="0.2" textLength="48.4" lengthAdjust="spacingAndGlyphs">8 Apr 00:00</text>
<text x="1336.5" y="936" font-size="9.5" fill="#000" stroke="#000" stroke-width="0.2" textLength="53.7" lengthAdjust="spacingAndGlyphs">11 Apr 08:00</text>
<text x="1400.5" y="936" font-size="9.5" fill="#000" stroke="#000" stroke-width="0.2" textLength="53.7" lengthAdjust="spacingAndGlyphs">12 Apr 16:00</text>
<text x="-2" y="586" font-size="9.5" fill="#000" stroke="#000" stroke-width="0.2" textLength="126" lengthAdjust="spacingAndGlyphs">MACD(12,26,9) 0.4033 0.4957</text>
<text x="-2" y="762" font-size="9.5" fill="#000" stroke="#000" stroke-width="0.2" textLength="67" lengthAdjust="spacingAndGlyphs">RSI(14) 55.9525</text>
<text x="8" y="34" font-size="9.5" fill="#000" stroke="#000" stroke-width="0.2" textLength="200" lengthAdjust="spacingAndGlyphs" xml:space="preserve">GBPJPY-,H4  162.945 163.021 162.886 162.891</text>
<polygon points="0,30 3,33 0,33" fill="#000"/>
<g shape-rendering="crispEdges">
<rect x="0" y="42" width="217" height="57" fill="#fff"/>
<rect x="0" y="66" width="105" height="33" fill="url(#gBot)"/>
<rect x="107" y="66" width="108" height="33" fill="url(#gBot)"/>
<rect x="0" y="66" width="105" height="1" fill="#b80000"/><rect x="107" y="66" width="108" height="1" fill="#b80000"/>
<rect x="104" y="66" width="1" height="33" fill="#b00000"/><rect x="107" y="66" width="1" height="33" fill="#b00000"/><rect x="214" y="66" width="1" height="33" fill="#b00000"/>
<rect x="0" y="98" width="105" height="1" fill="#a00000"/><rect x="107" y="98" width="108" height="1" fill="#a00000"/>
<rect x="0" y="42" width="48" height="25" fill="url(#gTop)"/>
<rect x="163" y="42" width="52" height="25" fill="url(#gTop)"/>
<rect x="0" y="42" width="48" height="1" fill="#c00000"/><rect x="47" y="42" width="1" height="25" fill="#c00000"/>
<rect x="163" y="42" width="52" height="1" fill="#c00000"/><rect x="163" y="42" width="1" height="25" fill="#c00000"/><rect x="214" y="42" width="1" height="25" fill="#c00000"/>
<rect x="0" y="65" width="44" height="1" fill="#8b0000"/><rect x="0" y="66" width="44" height="1" fill="#f86464"/>
<rect x="167" y="65" width="44" height="1" fill="#8b0000"/><rect x="167" y="66" width="44" height="1" fill="#f86464"/>
<rect x="50" y="42" width="111" height="22" fill="#a4a9b4"/>
<rect x="51" y="43" width="109" height="20" fill="#fff"/>
<rect x="51" y="43" width="20" height="20" fill="#b9bdc7"/><rect x="52" y="44" width="18" height="18" fill="url(#gBtn)"/>
<rect x="140" y="43" width="20" height="20" fill="#b9bdc7"/><rect x="141" y="44" width="18" height="18" fill="url(#gBtn)"/>
</g>
<polygon points="58,51 64,51 61,54.5" fill="#4a5fc0"/>
<polygon points="146.5,54.5 152.5,54.5 149.5,51" fill="#4a5fc0"/>
<text x="136" y="57" font-size="12" fill="#000" text-anchor="end">1.00</text>
<text x="8" y="57.8" font-size="11.5" fill="#fff" textLength="26" lengthAdjust="spacingAndGlyphs">SELL</text>
<text x="177" y="57.8" font-size="11.5" fill="#fff" textLength="22.8" lengthAdjust="spacingAndGlyphs">BUY</text>
<text x="19.4" y="94" font-size="12.3" font-weight="bold" fill="#fff" textLength="20" lengthAdjust="spacingAndGlyphs">162</text>
<text x="44" y="93" font-size="31" fill="#fff" textLength="34" lengthAdjust="spacingAndGlyphs">89</text>
<text x="83" y="78" font-size="12.3" font-weight="bold" fill="#fff">1</text>
<text x="129.5" y="94" font-size="12.3" font-weight="bold" fill="#fff" textLength="20" lengthAdjust="spacingAndGlyphs">163</text>
<text x="154" y="93" font-size="31" fill="#fff" textLength="34" lengthAdjust="spacingAndGlyphs">05</text>
<text x="193.8" y="78" font-size="12.3" font-weight="bold" fill="#fff">0</text>
<g>
<rect x="0" y="0" width="1699" height="17" fill="#f0f0f0"/>
<rect x="0" y="17" width="1699" height="1" fill="#dcdcdc"/>
<rect x="0" y="18" width="1699" height="1" fill="#a6a6a6"/>
<rect x="0" y="19" width="1699" height="1" fill="#6c6c6c"/>
<rect x="0" y="20" width="1699" height="2" fill="#ffffff"/>
<rect x="289" y="0" width="23" height="16" fill="#f8f8f8"/>
<rect x="439" y="0" width="25" height="16" fill="#f8f8f8"/>
<rect x="469" y="0" width="24" height="16" fill="#f8f8f8"/>
<rect x="628" y="0" width="24" height="16" fill="#f8f8f8"/>
<rect x="1074" y="0" width="24" height="16" fill="#f8f8f8"/>
<rect x="13" y="0" width="1" height="16" fill="#a0a0a0"/>
<rect x="249" y="0" width="1" height="16" fill="#a0a0a0"/>
<rect x="287" y="0" width="1" height="16" fill="#a0a0a0"/>
<rect x="344" y="0" width="1" height="16" fill="#a0a0a0"/>
<rect x="434" y="0" width="1" height="16" fill="#a0a0a0"/>
<rect x="467" y="0" width="1" height="16" fill="#a0a0a0"/>
<rect x="496" y="0" width="1" height="16" fill="#a0a0a0"/>
<rect x="617" y="0" width="1" height="16" fill="#a0a0a0"/>
<rect x="627" y="0" width="1" height="16" fill="#a0a0a0"/>
<rect x="684" y="0" width="1" height="16" fill="#a0a0a0"/>
<rect x="923" y="0" width="1" height="16" fill="#a0a0a0"/>
<rect x="1073" y="0" width="1" height="16" fill="#a0a0a0"/>
<rect x="1184" y="0" width="1" height="16" fill="#a0a0a0"/>
<rect x="253" y="0" width="3" height="1" fill="#b4b4b4"/>
<rect x="253" y="2" width="3" height="1" fill="#b4b4b4"/>
<rect x="253" y="4" width="3" height="1" fill="#b4b4b4"/>
<rect x="253" y="6" width="3" height="1" fill="#b4b4b4"/>
<rect x="253" y="8" width="3" height="1" fill="#b4b4b4"/>
<rect x="253" y="10" width="3" height="1" fill="#b4b4b4"/>
<rect x="253" y="12" width="3" height="1" fill="#b4b4b4"/>
<rect x="253" y="14" width="3" height="1" fill="#b4b4b4"/>
<rect x="621" y="0" width="3" height="1" fill="#b4b4b4"/>
<rect x="621" y="2" width="3" height="1" fill="#b4b4b4"/>
<rect x="621" y="4" width="3" height="1" fill="#b4b4b4"/>
<rect x="621" y="6" width="3" height="1" fill="#b4b4b4"/>
<rect x="621" y="8" width="3" height="1" fill="#b4b4b4"/>
<rect x="621" y="10" width="3" height="1" fill="#b4b4b4"/>
<rect x="621" y="12" width="3" height="1" fill="#b4b4b4"/>
<rect x="621" y="14" width="3" height="1" fill="#b4b4b4"/>
<rect x="927" y="0" width="3" height="1" fill="#b4b4b4"/>
<rect x="927" y="2" width="3" height="1" fill="#b4b4b4"/>
<rect x="927" y="4" width="3" height="1" fill="#b4b4b4"/>
<rect x="927" y="6" width="3" height="1" fill="#b4b4b4"/>
<rect x="927" y="8" width="3" height="1" fill="#b4b4b4"/>
<rect x="927" y="10" width="3" height="1" fill="#b4b4b4"/>
<rect x="927" y="12" width="3" height="1" fill="#b4b4b4"/>
<rect x="927" y="14" width="3" height="1" fill="#b4b4b4"/>
<line x1="-1" y1="9" x2="4.500" y2="14.500" stroke="#c9a227" stroke-width="2.6"/>
<path d="M-2,2a5,5 0 0 1 4,5" stroke="#4a86d8" stroke-width="1.4" fill="none"/>
<rect x="24.5" y="-2" width="9" height="13" fill="#fff" stroke="#8a8a8a"/>
<path d="M26,3h6M26,5.5h6M26,8h4" stroke="#9a9a9a" stroke-width="1"/>
<path d="M33.2,4.5v11M27,10.2h12.400" stroke="#14b814" stroke-width="4.4"/>
<path d="M20,11l1.5,-1.5l1.5,1.5l-1.5,1.5z" fill="none" stroke="#222" stroke-width="0.8"/>
<text x="42" y="9" font-size="12" fill="#000" stroke="#000" stroke-width="0.25">新订单</text>
<polygon points="91,6 98,-1 106,6 99,13 94,12" fill="#d9a520" stroke="#a87908" stroke-width="0.8"/>
<polygon points="95,3 99,0 103,5 99,9" fill="#f3d060"/>
<rect x="121" y="-2" width="10" height="9" fill="#3d8fe0" stroke="#2a6cb8" stroke-width="0.8"/>
<rect x="123" y="1" width="6" height="2" fill="#cfe6ff"/>
<ellipse cx="126" cy="9.5" rx="7.5" ry="3.6" fill="#e6eef8" stroke="#9fb4d0" stroke-width="0.8"/>
<circle cx="123" cy="7.5" r="2.6" fill="#eef4fb"/><circle cx="128" cy="7" r="3" fill="#eef4fb"/>
<circle cx="154" cy="5" r="7" fill="none" stroke="#8fb0e8" stroke-width="1.2"/>
<circle cx="154" cy="5" r="4.2" fill="none" stroke="#5a8be0" stroke-width="1.2"/>
<circle cx="154" cy="5" r="1.8" fill="#2f62c8"/>
<path d="M154,5v8a8,8 0 0 0 7,-6" fill="#48b058" opacity="0.9"/>
<ellipse cx="181" cy="2" rx="7" ry="3.2" fill="#4aa0e0"/>
<polygon points="174,3 188,3 184,12 178,10" fill="#f0c030"/>
<circle cx="185.500" cy="9.5" r="4" fill="#e02818"/>
<rect x="184" y="8" width="3" height="3" fill="#fff"/>
<text x="194.500" y="9" font-size="12" fill="#000" stroke="#000" stroke-width="0.25">自动交易</text>
<path d="M268.5,0v14M265,11.5h13" stroke="#555" stroke-width="1" fill="none"/>
<polygon points="278,9.500 281,11.5 278,13.5" fill="#555"/>
<path d="M274.500,1v8.500M274.500,2.500h2.500M272,8.500h2.500" stroke="#18a018" stroke-width="1.5" fill="none"/>
<path d="M296.5,0v14M293,11.5h13" stroke="#555" stroke-width="1" fill="none"/>
<polygon points="306,9.500 309,11.5 306,13.5" fill="#555"/>
<rect x="299.5" y="0" width="4" height="8" fill="#20c020" stroke="#0a800a" stroke-width="0.8"/><rect x="301" y="8" width="1" height="2" fill="#0a800a"/>
<path d="M324.5,0v14M321,11.5h13" stroke="#555" stroke-width="1" fill="none"/>
<polygon points="334,9.500 337,11.5 334,13.5" fill="#555"/>
<path d="M322,9c3,-6 6,-8 8,-6s3,3 4,4" stroke="#18a018" stroke-width="1.3" fill="none"/>
<line x1="363" y1="7" x2="368.5" y2="12.5" stroke="#d4a017" stroke-width="2.2" stroke-linecap="round"/>
<circle cx="359" cy="2.5" r="5.6" fill="#d8e8fb" stroke="#4a86d8" stroke-width="1.4"/>
<path d="M356,2.5h6" stroke="#3a70c8" stroke-width="1.6"/>
<path d="M359,-0.5v6" stroke="#3a70c8" stroke-width="1.6"/>
<line x1="391" y1="7" x2="396.5" y2="12.5" stroke="#d4a017" stroke-width="2.2" stroke-linecap="round"/>
<circle cx="387" cy="2.5" r="5.6" fill="#d8e8fb" stroke="#4a86d8" stroke-width="1.4"/>
<path d="M384,2.5h6" stroke="#3a70c8" stroke-width="1.6"/>
<rect x="409" y="0" width="7.500" height="5.5" fill="#48a838"/><rect x="417.500" y="0" width="7.500" height="5.5" fill="#2c62d8"/>
<rect x="409" y="6.500" width="7.500" height="6.500" fill="#2c62d8"/><rect x="417.500" y="6.500" width="7.500" height="6.500" fill="#48a838"/>
<rect x="410.500" y="2" width="4.500" height="2" fill="#e8f4e0"/><rect x="419" y="2" width="4.500" height="2" fill="#dce8fb"/><rect x="410.500" y="9" width="4.500" height="2.500" fill="#dce8fb"/><rect x="419" y="9" width="4.500" height="2.500" fill="#e8f4e0"/>
<path d="M447.5,0v14M444,11.5h13" stroke="#555" stroke-width="1" fill="none"/>
<polygon points="457,9.500 460,11.5 457,13.5" fill="#555"/>
<polygon points="452,2.500 452,9 456.500,5.800" fill="#20b020"/>
<path d="M476.5,0v14M473,11.5h13" stroke="#555" stroke-width="1" fill="none"/>
<polygon points="486,9.500 489,11.5 486,13.5" fill="#555"/>
<rect x="481" y="0" width="1.200" height="10" fill="#2060c0"/>
<path d="M488,5.500h-4.500M485.500,3.500l-2,2l2,2" stroke="#d03010" stroke-width="1.200" fill="none"/>
<rect x="507.500" y="-1" width="8" height="11" fill="#f4f4f4" stroke="#8a8a8a" stroke-width="0.9"/>
<path d="M516.500,3.500v12M510.500,9.500h12" stroke="#14b814" stroke-width="4.2"/>
<polygon points="528.5,5 533.5,5 531,8" fill="#000"/>
<polygon points="567.5,5 572.5,5 570,8" fill="#000"/>
<polygon points="606.5,5 611.5,5 609,8" fill="#000"/>
<polygon points="912.5,5 917.5,5 915,8" fill="#000"/>
<circle cx="552" cy="5.500" r="7.600" fill="#2a6ad8" stroke="#1a4aa8" stroke-width="0.8"/>
<circle cx="552" cy="5.500" r="5" fill="#f4f8ff"/>
<path d="M552,2.500v3.500h3" stroke="#555" stroke-width="1" fill="none"/>
<rect x="583.500" y="-1" width="15" height="13" fill="#fdfdfd" stroke="#3a78d0" stroke-width="1.2"/>
<rect x="584" y="-1" width="14" height="2" fill="#4a8ae0"/>
<path d="M586,5.500l3,-1.500l3,1l4,-2" stroke="#b03010" stroke-width="1.100" fill="none"/>
<path d="M584,7.500h14" stroke="#3a78d0" stroke-width="0.8"/>
<path d="M586,10.500l3,-1.500l2,1.500l2,-2l3,2" stroke="#18a018" stroke-width="1.100" fill="none"/>
<polygon points="635,0 635,11 637.800,8.800 640,13 641.800,12 639.800,8 643,7.500" fill="#505050"/>
<path d="M667.500,0v13.500M660,6.500h15" stroke="#555" stroke-width="1" fill="none"/>
<rect x="701" y="0" width="1.300" height="13" fill="#555"/>
<rect x="724" y="5.800" width="12" height="1.300" fill="#555"/>
<line x1="752.500" y1="12.800" x2="764" y2="1" stroke="#555" stroke-width="1.200"/>
<path d="M779,9l11,-9M781,12.500l12,-10M783,3l3,9M787,1l3,8" stroke="#555" stroke-width="1" fill="none"/>
<text x="788.500" y="15" font-size="7.500" fill="#222">E</text>
<line x1="807" y1="2" x2="820" y2="2" stroke="#555" stroke-width="1" stroke-dasharray="1.500,1.200"/>
<line x1="807" y1="6.5" x2="820" y2="6.5" stroke="#555" stroke-width="1" stroke-dasharray="1.500,1.200"/>
<line x1="807" y1="11" x2="820" y2="11" stroke="#555" stroke-width="1" stroke-dasharray="1.500,1.200"/>
<text x="816.500" y="15" font-size="7.500" fill="#222">F</text>
<text x="837.500" y="11" font-size="12" fill="#555" stroke="#555" stroke-width="0.35">A</text>
<rect x="864.500" y="0.500" width="11.500" height="12" fill="none" stroke="#555" stroke-width="1" stroke-dasharray="1.200,1.200"/>
<text x="866.800" y="10.500" font-size="11" fill="#555" stroke="#555" stroke-width="0.35">T</text>
<polygon points="894,-1 897,2 894,5 891,2" fill="#444"/><polygon points="902,6 905.500,9.500 902,13 898.500,9.500" fill="#444"/>
<path d="M893,7l2.500,2.500l4,-5" stroke="#444" stroke-width="1.200" fill="none"/>
<text x="939" y="9.600" font-size="9" fill="#3c3c3c" textLength="12" lengthAdjust="spacingAndGlyphs">M1</text>
<text x="967" y="9.600" font-size="9" fill="#3c3c3c" textLength="12" lengthAdjust="spacingAndGlyphs">M5</text>
<text x="993" y="9.600" font-size="9" fill="#3c3c3c" textLength="17" lengthAdjust="spacingAndGlyphs">M15</text>
<text x="1021" y="9.600" font-size="9" fill="#3c3c3c" textLength="17" lengthAdjust="spacingAndGlyphs">M30</text>
<text x="1052" y="9.600" font-size="9" fill="#3c3c3c" textLength="11" lengthAdjust="spacingAndGlyphs">H1</text>
<text x="1079" y="9.600" font-size="9" fill="#3c3c3c" textLength="11.5" lengthAdjust="spacingAndGlyphs">H4</text>
<text x="1108" y="9.600" font-size="9" fill="#3c3c3c" textLength="11" lengthAdjust="spacingAndGlyphs">D1</text>
<text x="1135" y="9.600" font-size="9" fill="#3c3c3c" textLength="14.5" lengthAdjust="spacingAndGlyphs">W1</text>
<text x="1162" y="9.600" font-size="9" fill="#3c3c3c" textLength="14.5" lengthAdjust="spacingAndGlyphs">MN</text>
<line x1="1652" y1="6.500" x2="1647.500" y2="11" stroke="#2a62d0" stroke-width="2.200" stroke-linecap="round"/>
<circle cx="1654.700" cy="3.200" r="3.700" fill="#f4f6ff" stroke="#2a62d0" stroke-width="1.300"/>
<ellipse cx="1678" cy="8.500" rx="6.500" ry="5" fill="#e4e6ee" stroke="#b8b8b8" stroke-width="0.8"/>
<polygon points="1674,12.500 1674.500,15 1678,13" fill="#d0d0d4"/>
<circle cx="1685.600" cy="3.500" r="8.300" fill="#e2351f"/>
<text x="1685.600" y="8" font-size="12" font-weight="bold" fill="#fff" text-anchor="middle" font-family='"Liberation Serif", serif'>1</text>
</g>
<rect x="1698" y="18" width="1" height="927" fill="#f0f0f0"/>
<rect x="0" y="944" width="1699" height="1" fill="#f0f0f0"/>
</svg>
</body></html>
